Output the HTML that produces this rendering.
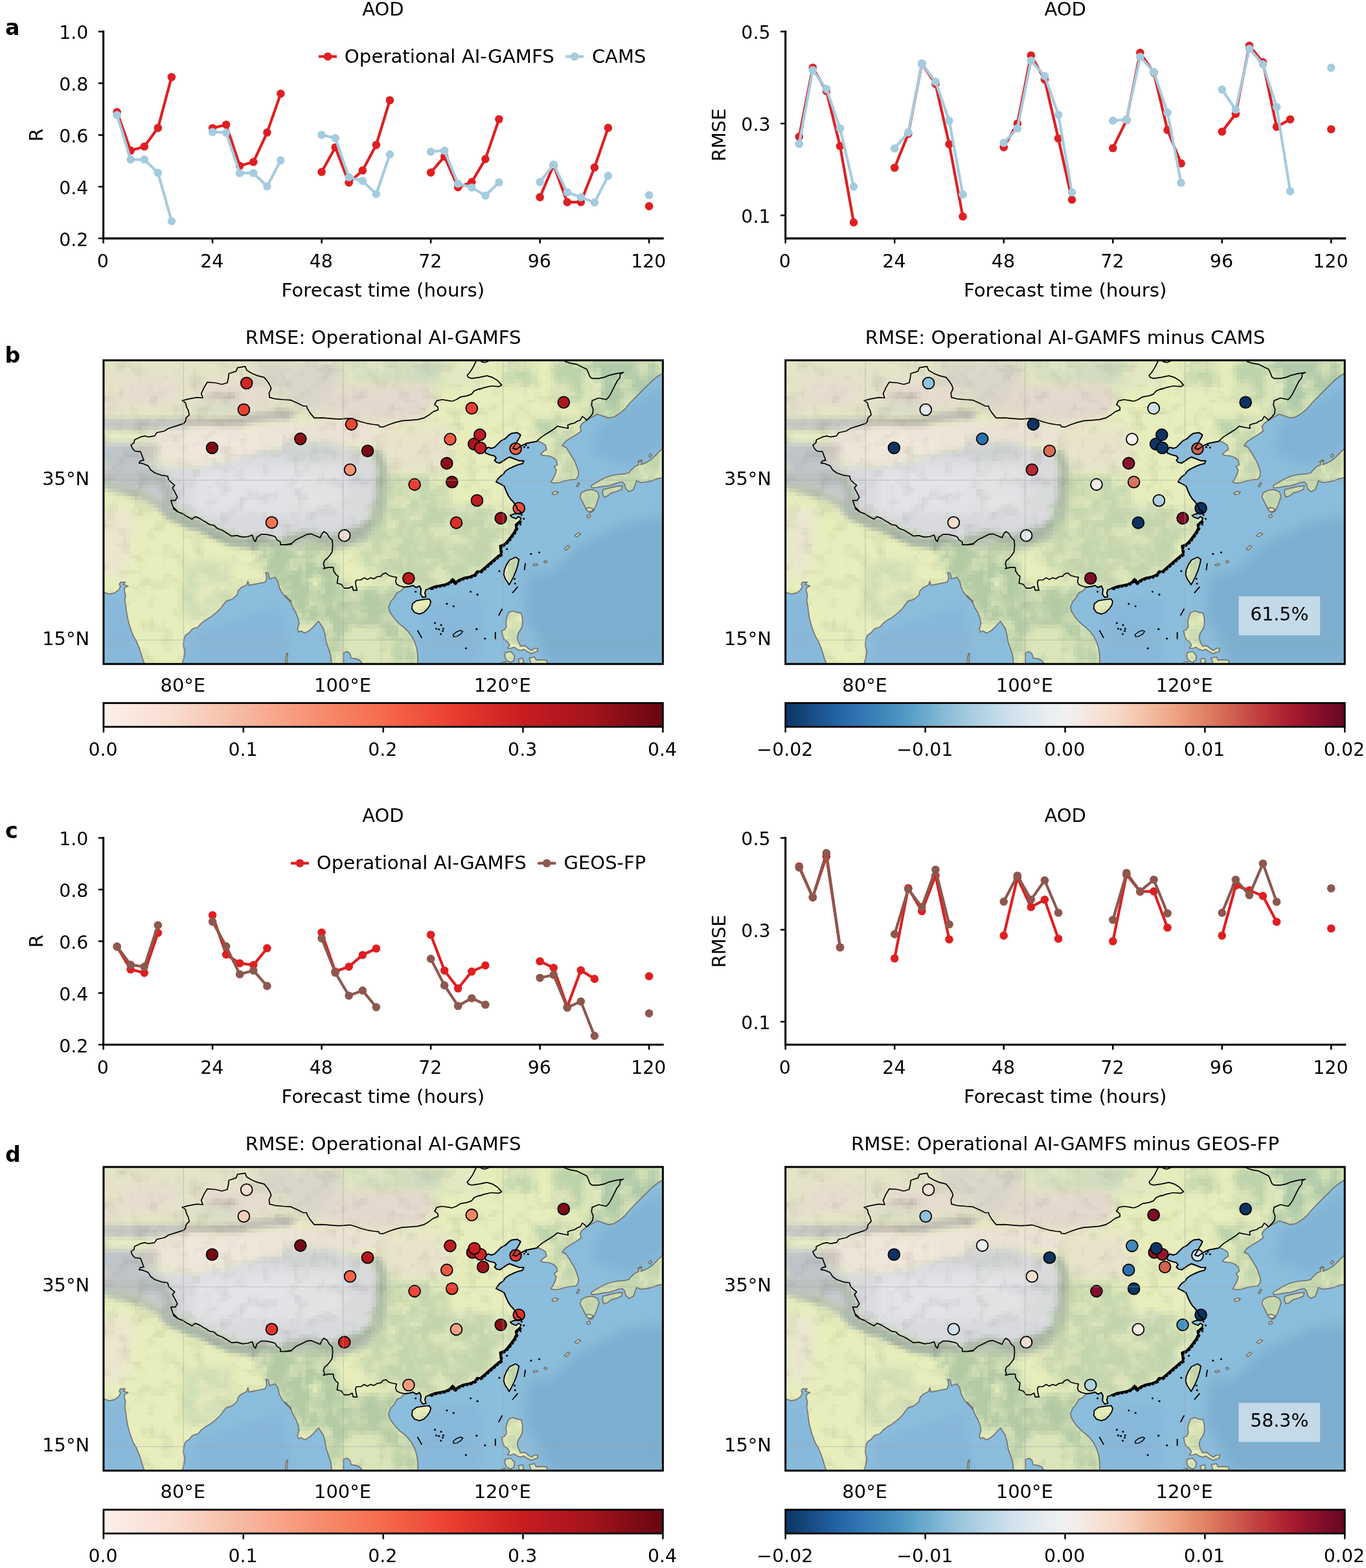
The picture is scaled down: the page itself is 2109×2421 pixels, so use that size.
<!DOCTYPE html>
<html lang="en">
<head>
<meta charset="utf-8">
<title>AOD forecast evaluation</title>
<style>
html,body{margin:0;padding:0;background:#fff}
body{width:2109px;height:2421px;overflow:hidden}
svg{display:block}
</style>
</head>
<body>
<svg width="2109" height="2421" viewBox="0 0 2109 2421">
<defs>
<linearGradient id="gReds" x1="0" y1="0" x2="1" y2="0"><stop offset="0" stop-color="#faf0eb"/><stop offset="0.0312" stop-color="#f9ebe4"/><stop offset="0.0625" stop-color="#f9e6dd"/><stop offset="0.0938" stop-color="#f9e1d6"/><stop offset="0.125" stop-color="#f9dcce"/><stop offset="0.1562" stop-color="#f8d3c3"/><stop offset="0.1875" stop-color="#f8cab7"/><stop offset="0.2188" stop-color="#f7c1ab"/><stop offset="0.25" stop-color="#f7b89f"/><stop offset="0.2812" stop-color="#f7ae94"/><stop offset="0.3125" stop-color="#f7a589"/><stop offset="0.3438" stop-color="#f79b7e"/><stop offset="0.375" stop-color="#f79172"/><stop offset="0.4062" stop-color="#f68769"/><stop offset="0.4375" stop-color="#f67e5f"/><stop offset="0.4688" stop-color="#f67456"/><stop offset="0.5" stop-color="#f66b4c"/><stop offset="0.5312" stop-color="#f35f45"/><stop offset="0.5625" stop-color="#f0543e"/><stop offset="0.5938" stop-color="#ed4937"/><stop offset="0.625" stop-color="#ea3e30"/><stop offset="0.6562" stop-color="#e1352c"/><stop offset="0.6875" stop-color="#d82d29"/><stop offset="0.7188" stop-color="#d02525"/><stop offset="0.75" stop-color="#c71d22"/><stop offset="0.7812" stop-color="#be1b20"/><stop offset="0.8125" stop-color="#b5181e"/><stop offset="0.8438" stop-color="#ac161c"/><stop offset="0.875" stop-color="#a2141a"/><stop offset="0.9062" stop-color="#931018"/><stop offset="0.9375" stop-color="#840d16"/><stop offset="0.9688" stop-color="#750914"/><stop offset="1" stop-color="#680612"/></linearGradient>
<linearGradient id="gRdBu" x1="0" y1="0" x2="1" y2="0"><stop offset="0" stop-color="#0b3463"/><stop offset="0.0312" stop-color="#134479"/><stop offset="0.0625" stop-color="#1c5490"/><stop offset="0.0938" stop-color="#2464a6"/><stop offset="0.125" stop-color="#2e72b0"/><stop offset="0.1562" stop-color="#3880b7"/><stop offset="0.1875" stop-color="#428dbe"/><stop offset="0.2188" stop-color="#559cc5"/><stop offset="0.25" stop-color="#6cabcd"/><stop offset="0.2812" stop-color="#84bad5"/><stop offset="0.3125" stop-color="#9ac6dc"/><stop offset="0.3438" stop-color="#add0e2"/><stop offset="0.375" stop-color="#bfdae7"/><stop offset="0.4062" stop-color="#d0e2ec"/><stop offset="0.4375" stop-color="#dce7ee"/><stop offset="0.4688" stop-color="#e7edf0"/><stop offset="0.5" stop-color="#f2f1f1"/><stop offset="0.5312" stop-color="#f4e9e3"/><stop offset="0.5625" stop-color="#f6e1d4"/><stop offset="0.5938" stop-color="#f7d8c6"/><stop offset="0.625" stop-color="#f5c9b2"/><stop offset="0.6562" stop-color="#f3b99d"/><stop offset="0.6875" stop-color="#f0a989"/><stop offset="0.7188" stop-color="#e99577"/><stop offset="0.75" stop-color="#e08167"/><stop offset="0.7812" stop-color="#d76c57"/><stop offset="0.8125" stop-color="#cd574a"/><stop offset="0.8438" stop-color="#c24140"/><stop offset="0.875" stop-color="#b72c36"/><stop offset="0.9062" stop-color="#a91b2e"/><stop offset="0.9375" stop-color="#92132a"/><stop offset="0.9688" stop-color="#7c0c27"/><stop offset="1" stop-color="#680624"/></linearGradient>
<clipPath id="mapclip"><rect x="0" y="0" width="863.5" height="468.9"/></clipPath>
<clipPath id="landclip"><path d="M-5 -5 L868.5 -5 L862.2 20.5 L854.7 25.5 L846.3 32.2 L838 40.6 L829.6 48.9 L821.2 57.3 L812.9 65.7 L804.5 75.7 L796.1 82.4 L787.7 87.5 L779.4 89.1 L767.7 84.9 L762.6 83.3 L754.3 87.5 L745.9 92.5 L739.2 97.5 L735.8 102.5 L737.5 109.2 L730.8 114.2 L720.8 120.1 L712.4 126 L708.2 131.8 L714.1 134.3 L717.4 139.4 L722.5 147.7 L727.5 156.1 L730.8 164.5 L733.3 172.8 L732.5 179.5 L729.1 183.7 L720.8 184.6 L712.4 186.2 L704 188.7 L695.7 189.6 L690.6 187.9 L694 182.9 L697.3 176.2 L699 169.5 L695.7 164.5 L700.7 161.1 L699 154.4 L694 150.2 L687.3 147.7 L678.9 146.9 L674.7 145.2 L678.9 141 L683.9 137.7 L682.3 131 L677.2 127.6 L672.2 125.1 L668.9 125.1 L660.5 126.8 L652.1 128.5 L643.8 132.7 L637.1 137.7 L632 136 L637.1 127.6 L642.1 119.3 L643.8 115.1 L638.7 111.7 L630.4 112.6 L625.3 115.9 L620.3 120.9 L613.6 124.3 L608.6 129.3 L603.6 134.3 L598.6 136 L593.5 134.3 L588.5 139.4 L590.2 143.5 L596.9 146.1 L603.6 147.7 L606.1 151.1 L603.6 154.4 L606.9 157.8 L612 158.6 L617 155.3 L622 151.9 L627 149.4 L635.4 152.7 L642.1 155.3 L648.8 155.3 L647.1 159.4 L640.4 161.1 L632 164.5 L625.3 167.8 L620.3 171.2 L617 176.2 L612 179.5 L607.8 184.6 L606.1 187.9 L613.6 191.3 L618.7 194.6 L622 203 L625.3 209.7 L628.7 214.7 L632 218 L637.1 224.7 L639.6 231.4 L642.1 232 L645.4 235.4 L642.1 236.2 L633.7 237.1 L627.9 239.6 L630.4 242.1 L637.1 244.6 L640.4 241.3 L644.6 243.8 L642.1 248.8 L636.2 253.8 L637.1 258.8 L633.7 265.5 L628.7 272.2 L623.7 278.9 L618.7 283.9 L612 286.5 L612.8 292.3 L613.6 299 L608.6 302.4 L601.9 308.2 L595.2 314.1 L588.5 319.9 L581.8 325.8 L576.4 325.8 L573.1 330.8 L564.7 334.2 L556.3 335.8 L548 339.2 L541.3 344.2 L538.8 337.5 L534.6 342.5 L527.9 345.9 L519.5 347.6 L511.1 349.2 L502.8 352.6 L497.7 354.3 L496.1 359.3 L497.7 365.1 L492.7 366 L489.4 361 L490.2 353.4 L487.7 348.4 L482.7 350.9 L477.7 347.6 L472.6 349.2 L464.3 350.1 L459.2 355.9 L452.5 359.3 L449.2 366 L443.3 372.7 L440 381.1 L441.7 387.7 L445.8 394.4 L450.9 401.1 L457.6 407.8 L464.3 412.9 L471 419.6 L476 426.3 L480.2 434.6 L483.5 444.7 L485.2 454.7 L485.2 468.1 L399 468.1 L395.6 463.1 L388.9 460.6 L382.2 459.7 L380.6 453 L376.4 449.7 L370.5 451.4 L370.5 468.1 L352.1 468.1 L350.4 454.7 L347.1 444.7 L343.7 434.6 L342 424.6 L339.5 414.5 L336.2 409.5 L332 402.8 L328.7 406.2 L323.6 412 L316.9 417.9 L310.2 421.2 L305.2 417.9 L301 419.6 L299.4 414.5 L301.9 406.2 L300.2 397.8 L296.8 389.4 L292.7 382.7 L290.1 376 L285.1 369.3 L280.1 362.6 L290.1 372.7 L284.8 369.3 L279.7 364.3 L274.7 357.6 L271.4 350.9 L268.9 340.9 L264.7 335 L256.3 337.5 L254.6 329.2 L250.4 327.5 L252.1 335.8 L249.6 342.5 L241.2 344.2 L232.9 345.9 L224.5 347.6 L222.8 340.9 L221.1 346.7 L212.8 350.9 L207.7 355.9 L206.1 362.6 L197.7 369.3 L189.3 371.8 L186 376 L181 382.7 L174.3 389.4 L165.9 396.1 L157.5 401.1 L150.8 406.2 L145.8 412 L137.4 414.5 L132.4 420.4 L126.5 424.6 L124 431.3 L123.2 441.3 L125.7 449.7 L124 459.7 L121.5 468.1 L62.9 468.1 L60.4 461.4 L57.9 453 L54.6 443 L50.4 433 L46.2 426.3 L42.8 417.9 L39.5 407.8 L37 397.8 L35.3 387.7 L34.5 379.4 L32.8 371 L34 362.6 L32 355.9 L32.8 350.9 L37.8 348.4 L30.3 345.9 L33.6 342.5 L26.1 342.5 L24.4 345.9 L26.1 349.2 L23.6 354.3 L16.9 359.3 L8.5 361 L0.1 357.9 L-5 359.9ZM476.8 376 L483.5 371 L494.4 369.3 L502.8 368.5 L505.3 372.7 L503.6 378.5 L499.4 384.4 L494.4 389.4 L487.7 391.9 L480.2 389.4 L476 383.6ZM636.2 304 L641.3 307.4 L639.6 315.8 L637.1 324.1 L633.7 332.5 L629.5 340.9 L626.2 346.7 L623.7 342.5 L620.3 337.5 L617.8 330.8 L618.7 324.1 L622 315.8 L627 308.2ZM625.3 389.4 L632 386.9 L638.7 389.4 L644.6 390.3 L646.3 396.1 L647.1 404.5 L646.3 411.2 L643.8 416.2 L640.4 421.2 L638.7 427.9 L640.4 434.6 L643.8 441.3 L650.5 440.5 L655.5 444.7 L660.5 448 L665.5 444.7 L670.6 444.7 L669.7 449.7 L663.9 451.4 L660.5 453 L653.8 449.7 L648.8 446.3 L643.8 448 L638.7 446.3 L633.7 443 L628.7 444.7 L623.7 444.7 L627 439.6 L623.7 434.6 L618.7 431.3 L616.1 424.6 L614.5 417.9 L618.7 416.2 L622 411.2 L621.2 402.8 L622.8 396.1ZM620.3 451.4 L628.7 449.7 L634.6 456.4 L633.7 463.1 L628.7 466.4 L622 463.1 L619.5 456.4ZM752.6 193.8 L759.3 189.6 L771 182.9 L781 178.7 L792.8 176.2 L804.5 175.4 L811.2 173.7 L814.5 169.5 L819.6 164.5 L826.3 161.1 L826.3 156.1 L831.3 154.4 L829.6 161.1 L838 157.8 L846.3 152.7 L854.7 144.4 L863.1 136 L868.5 136 L868.5 181.2 L863.1 181.2 L854.7 182.9 L846.3 186.2 L838 187.9 L829.6 188.7 L822.9 186.2 L821.2 191.3 L817.9 199.6 L811.2 203 L806.2 198 L804.5 191.3 L801.1 187.9 L794.4 188.7 L787.7 191.3 L779.4 193.8 L771 194.6 L762.6 196.3 L754.3 197.1 L752.6 193.8ZM771 199.6 L781 197.1 L792.8 194.6 L801.1 193.8 L799.5 199.6 L791.1 203 L784.4 204.6 L777.7 209.7 L772.7 211.3 L770.2 205.5ZM737.5 204.6 L745.9 200.5 L754.3 199.6 L762.6 203 L765.1 209.7 L762.6 218 L759.3 226.4 L755.9 233.1 L750.9 235.6 L745.9 231.4 L742.5 224.7 L739.2 218 L735.8 211.3ZM692.3 205 L697.3 202.6 L702.4 203.8 L699 206.7 L694 207.3ZM280.6 468.1 L281.1 459.7 L282.8 452.2 L284.4 453 L283.4 461.4 L283.1 468.1ZM744.2 228.7 L750.1 227.4 L755.9 229.5 L754.3 232.9 L748.4 233.7ZM745.9 240.4 L750.1 237.9 L751.8 241.3 L747.9 243.4ZM727.5 270.6 L733.3 266.4 L736.7 268 L730.8 272.6ZM711.6 291 L717.4 285.6 L719.9 287.6 L714.1 293.2ZM679.8 310.4 L683.1 309.1 L684.8 311.6 L681.4 312.9ZM663 315.8 L668 313.7 L670.6 315.8 L665.5 317.4ZM730 194.6 L733.3 188.7 L735 189.9 L732.2 195.4ZM841.3 147.7 L844.7 144.4 L846.3 146.9 L843.8 150.2ZM824.6 156.9 L828.8 153.6 L830.4 155.8ZM640.4 461.4 L647.1 459.7 L648.8 466.4 L642.1 468.9ZM657.2 459.7 L665.5 458.1 L668 463.1 L675.6 462.3 L683.9 463.1 L685.6 468.9 L660.5 468.9ZM615.3 466.4 L620.3 465.6 L622 468.9 L614.5 468.9Z"/></clipPath>
<filter id="b3" filterUnits="userSpaceOnUse" x="-60" y="-60" width="983.5" height="588.9"><feGaussianBlur stdDeviation="3"/></filter>
<filter id="b4" filterUnits="userSpaceOnUse" x="-60" y="-60" width="983.5" height="588.9"><feGaussianBlur stdDeviation="4"/></filter>
<filter id="b5" filterUnits="userSpaceOnUse" x="-60" y="-60" width="983.5" height="588.9"><feGaussianBlur stdDeviation="5"/></filter>
<filter id="b6" filterUnits="userSpaceOnUse" x="-60" y="-60" width="983.5" height="588.9"><feGaussianBlur stdDeviation="6"/></filter>
<filter id="b7" filterUnits="userSpaceOnUse" x="-60" y="-60" width="983.5" height="588.9"><feGaussianBlur stdDeviation="7"/></filter>
<filter id="b8" filterUnits="userSpaceOnUse" x="-60" y="-60" width="983.5" height="588.9"><feGaussianBlur stdDeviation="8"/></filter>
<filter id="b9" filterUnits="userSpaceOnUse" x="-60" y="-60" width="983.5" height="588.9"><feGaussianBlur stdDeviation="9"/></filter>
<filter id="b10" filterUnits="userSpaceOnUse" x="-60" y="-60" width="983.5" height="588.9"><feGaussianBlur stdDeviation="10"/></filter>
<filter id="mot" filterUnits="userSpaceOnUse" x="-10" y="-10" width="883.5" height="488.9" color-interpolation-filters="sRGB"><feTurbulence type="fractalNoise" baseFrequency="0.045" numOctaves="3" seed="11" result="n"/><feColorMatrix in="n" type="matrix" values="0.22 0 0 0 0.89  0.22 0 0 0 0.89  0.22 0 0 0 0.89  0 0 0 0 1" result="m"/><feBlend in="SourceGraphic" in2="m" mode="multiply"/></filter>
<filter id="veg" filterUnits="userSpaceOnUse" x="-10" y="-10" width="883.5" height="488.9" color-interpolation-filters="sRGB"><feTurbulence type="fractalNoise" baseFrequency="0.035" numOctaves="4" seed="5" result="n"/><feColorMatrix in="n" type="matrix" values="0 0 0 0 0  0 0 0 0 0  0 0 0 0 0  0 3.4 0 0 -1.0" result="a"/><feComposite in="SourceGraphic" in2="a" operator="in"/></filter>
<filter id="pix" filterUnits="userSpaceOnUse" x="-10" y="-10" width="883.5" height="488.9" color-interpolation-filters="sRGB"><feFlood x="3" y="3" width="1" height="1" flood-color="#000"/><feComposite width="6.17" height="6.17"/><feTile result="grid"/><feComposite in="SourceGraphic" in2="grid" operator="in"/><feMorphology operator="dilate" radius="3.2" result="px"/><feMerge><feMergeNode in="SourceGraphic"/><feMergeNode in="px"/></feMerge></filter>
<g id="mapbg" clip-path="url(#mapclip)">
<rect x="0" y="0" width="863.5" height="468.9" fill="#8bbddc"/>
<path d="M871.5 242.1 L812.9 248.8 L737.5 283.9 L690.6 329.2 L653.8 329.2 L650.5 396.1 L670.6 429.6 L687.3 471.5 L871.5 471.5Z" fill="#7caecf" filter="url(#b10)"/>
<path d="M762.6 100.8 L821.2 65.7 L864.8 37.2 L864.8 131 L812.9 164.5 L754.3 144.4Z" fill="#80b2d4" filter="url(#b9)"/>
<path d="M140.8 421.2 L274.7 379.4 L290.1 471.5 L132.4 471.5Z" fill="#86b6d8" filter="url(#b9)"/>
<path d="M0.1 371 L30.3 371 L57.1 471.5 L0.1 471.5Z" fill="#87b7d9" filter="url(#b9)"/>
<path d="M489.4 379.4 L580.1 362.6 L580.1 471.5 L489.4 471.5Z" fill="#87b7d9" filter="url(#b9)"/>
<g clip-path="url(#landclip)"><g filter="url(#pix)">
<g filter="url(#mot)">
<rect x="-10" y="-10" width="883.5" height="488.9" fill="#e7eebc"/>
<path d="M-9.9 -6.3 L290.1 -6.3 L290.1 87.5 L-9.9 87.5Z" fill="#e4e3c8" filter="url(#b10)"/>
<path d="M33.6 30.5 L107.3 28.9 L117.3 48.9 L107.3 65.7 L40.3 65.7 L28.6 48.9Z" fill="#e7ddd0" filter="url(#b8)"/>
<path d="M0.1 57.3 L33.6 57.3 L33.6 80.8 L0.1 84.1Z" fill="#e6dfd0" filter="url(#b8)"/>
<path d="M154.2 33.9 L241.2 35.6 L264.7 50.6 L258 70.7 L199.4 72.4 L157.5 67.4Z" fill="#e6dbcf" filter="url(#b7)"/>
<path d="M157.5 52.3 L207.7 51.5 L209.4 59.8 L157.5 60.7Z" fill="#cbc4b8" filter="url(#b4)"/>
<path d="M237.9 2.1 L290.1 2.1 L290.1 43.9 L261.3 43.9 L241.2 27.2Z" fill="#d8d4c8" filter="url(#b8)"/>
<path d="M137.4 67.4 L207.7 65.7 L211.1 80.8 L137.4 82.4Z" fill="#d6dbc6" filter="url(#b6)"/>
<path d="M0.1 92.5 L73.8 91.6 L122.4 92.5 L124 100.8 L98.9 107.5 L57.1 109.2 L0.1 109.2Z" fill="#c8cbc7" filter="url(#b5)"/>
<path d="M120.7 91.6 L197.7 91.6 L199.4 98.3 L120.7 99.2Z" fill="#c9c4b9" filter="url(#b4)"/>
<path d="M196 94.2 L241.2 84.1 L290.1 79.1 L290.1 87.5 L241.2 92.5 L197.7 100.8Z" fill="#c7c5bc" filter="url(#b5)"/>
<path d="M3.5 110.9 L45.3 110.9 L45.3 124.3 L3.5 126Z" fill="#e8ebc6" filter="url(#b6)"/>
<path d="M280.1 0.4 L373.9 0.4 L370.5 27.2 L363.8 64 L322 87.5 L280.1 60.7Z" fill="#dad6cb" filter="url(#b9)"/>
<path d="M373.9 0.4 L464.3 0.4 L464.3 28.9 L373.9 32.2Z" fill="#dde3c8" filter="url(#b9)"/>
<path d="M460.9 0.4 L531.2 0.4 L527.9 37.2 L464.3 35.6Z" fill="#d0dbc4" filter="url(#b9)"/>
<path d="M360.5 35.6 L497.7 32.2 L514.5 60.7 L497.7 89.1 L430.8 102.5 L363.8 90.8 L330.3 87.5Z" fill="#e4d9ce" filter="url(#b9)"/>
<path d="M280.1 94.2 L373.9 94.2 L427.4 105.9 L447.5 114.2 L440.8 131 L363.8 127.6 L280.1 126Z" fill="#ece1d7" filter="url(#b8)"/>
<path d="M83.9 104.2 L124 100.8 L207.7 102.5 L290.1 94.2 L290.1 134.3 L241.2 141 L191 154.4 L140.8 164.5 L90.6 159.4 L77.2 141 L65.4 124.3Z" fill="#ede5d8" filter="url(#b6)"/>
<path d="M124 114.2 L241.2 110.9 L241.2 137.7 L174.3 147.7 L124 144.4Z" fill="#f0e8dc" filter="url(#b8)"/>
<path d="M45.3 127.6 L83.9 126 L83.9 161.1 L57.1 157.8Z" fill="#cfcbc4" filter="url(#b6)"/>
<path d="M0.1 127.6 L45.3 126 L60.4 154.4 L83.9 162.8 L107.3 181.2 L117.3 211.3 L107.3 233.8 L83.9 216.4 L48.7 199.6 L0.1 186.2Z" fill="#c6cad0" filter="url(#b6)"/>
<path d="M11.9 141 L45.3 141 L45.3 161.1 L11.9 161.1Z" fill="#babec1" filter="url(#b6)"/>
<path d="M0.1 172.8 L60.4 176.2 L60.4 187.9 L0.1 186.2Z" fill="#bbbfc0" filter="url(#b6)"/>
<path d="M83.9 161.1 L140.8 166.1 L191 156.1 L241.2 141 L290.1 134.3 L290.1 233.8 L114.8 233.8 L107.3 203 L98.9 177.9Z" fill="#dadbdf" filter="url(#b5)"/>
<path d="M280.1 132.7 L330.3 127.6 L367.2 131 L415.7 144.4 L428.3 169.5 L429.9 194.6 L423.2 233.8 L280.1 233.8Z" fill="#d9dadc" filter="url(#b6)"/>
<path d="M107.3 228.7 L581.1 228.7 L579.4 248.8 L559.3 267.2 L492.4 272.2 L425.4 268.9 L341.7 283.9 L274.7 282.3 L207.7 270.6 L157.5 250.5Z" fill="#d9dadd" filter="url(#b5)"/>
<path d="M140.8 171.2 L290.1 161.1 L290.1 233.8 L140.8 233.8Z" fill="#e3e4e7" filter="url(#b9)"/>
<path d="M280.1 161.1 L363.8 161.1 L380.6 194.6 L363.8 233.8 L280.1 233.8Z" fill="#e2e3e5" filter="url(#b9)"/>
<path d="M280.1 127.6 L363.8 127.6 L363.8 154.4 L280.1 157.8Z" fill="#d2d4d4" filter="url(#b7)"/>
<path d="M0.1 182.9 L48.7 194.6 L83.9 213 L110.6 233.8 L90.6 233.8 L60.4 216.4 L0.1 199.6Z" fill="#b8c1b3" filter="url(#b5)"/>
<path d="M83.9 228.7 L107.3 228.7 L157.5 250.5 L207.7 270.6 L274.7 282.3 L341.7 283.9 L341.7 295.7 L274.7 294 L204.4 287.3 L149.1 267.2 L97.2 243.8Z" fill="#b5c0ae" filter="url(#b5)"/>
<path d="M330.3 283.9 L397.3 267.2 L419.1 248.8 L425.8 228.7 L437.5 228.7 L434.1 253.8 L414 278.9 L350.4 295.7 L330.3 295.7Z" fill="#b3c0ac" filter="url(#b6)"/>
<path d="M421.6 174.5 L431.6 177.9 L440 233.8 L423.2 233.8Z" fill="#b2beac" filter="url(#b6)"/>
<path d="M430.8 104.2 L531.2 100.8 L539.6 144.4 L531.2 177.9 L439.1 177.9 L422.4 144.4Z" fill="#e8e4cb" filter="url(#b9)"/>
<path d="M430.8 177.9 L531.2 177.9 L531.2 233.8 L430.8 233.8Z" fill="#dfe8bb" filter="url(#b9)"/>
<path d="M514.5 2.1 L580.1 2.1 L580.1 43.9 L514.5 43.9Z" fill="#e3e8c2" filter="url(#b8)"/>
<path d="M617 3.7 L663.9 3.7 L663.9 37.2 L620.3 37.2Z" fill="#dbe5ba" filter="url(#b8)"/>
<path d="M694 3.7 L745.9 3.7 L740.9 64 L697.3 64Z" fill="#dbe5ba" filter="url(#b8)"/>
<path d="M660.5 90.8 L720.8 87.5 L745.9 94.2 L720.8 117.6 L677.2 120.9Z" fill="#d9e4b9" filter="url(#b7)"/>
<path d="M745.9 0.4 L863.1 0.4 L863.1 27.2 L821.2 64 L779.4 92.5 L747.6 94.2 L754.3 60.7 L747.6 27.2Z" fill="#d0deb6" filter="url(#b7)"/>
<path d="M750.9 27.2 L804.5 20.5 L787.7 60.7 L754.3 60.7Z" fill="#e0e8bd" filter="url(#b7)"/>
<path d="M677.2 124.3 L720.8 117.6 L737.5 161.1 L734.2 189.6 L690.6 189.6 L700.7 161.1Z" fill="#dde7bb" filter="url(#b7)"/>
<path d="M737.5 177.9 L863.1 132.7 L863.1 184.6 L812.9 206.3 L737.5 234.8Z" fill="#dde7bb" filter="url(#b7)"/>
<path d="M0.1 228.7 L45.3 228.7 L45.3 278.9 L32 332.5 L0.1 335.8Z" fill="#ebe7cf" filter="url(#b9)"/>
<path d="M124 309.1 L199.4 309.1 L199.4 379.4 L149.1 404.5 L124 396.1Z" fill="#e2e9bc" filter="url(#b9)"/>
<path d="M241.2 285.6 L290.1 285.6 L290.1 372.7 L271.4 349.2 L251.3 329.2 L241.2 309.1Z" fill="#d3e0b7" filter="url(#b7)"/>
<path d="M280.1 295.7 L350.4 295.7 L363.8 345.9 L388.9 359.3 L447.5 349.2 L455.9 362.6 L440.8 379.4 L447.5 404.5 L481 429.6 L486 468.8 L397.3 468.8 L370.5 446.3 L352.1 468.8 L330.3 404.5 L300.2 412.9 L296.8 389.4 L280.1 362.6Z" fill="#d3e0b7" filter="url(#b8)"/>
<path d="M303.5 322.5 L335.3 325.8 L335.3 409.5 L301.9 412.9Z" fill="#e2eabd" filter="url(#b6)"/>
<path d="M373.9 409.5 L447.5 409.5 L464.3 468.8 L373.9 468.8Z" fill="#dbe6ba" filter="url(#b8)"/>
<path d="M419.1 228.7 L580.1 228.7 L580.1 324.1 L541.3 342.5 L497.7 352.6 L464.3 349.2 L447.5 332.5 L422.4 332.5 L397.3 312.4 L414 278.9Z" fill="#dbe5ba" filter="url(#b9)"/>
<path d="M447.5 270.6 L514.5 270.6 L514.5 312.4 L447.5 312.4Z" fill="#dbe5ba" filter="url(#b9)"/>
<path d="M570.1 228.7 L637.1 228.7 L633.7 265.5 L612 292.3 L580.1 324.1 L570.1 324.1Z" fill="#dde7bb" filter="url(#b9)"/>
<path d="M105.3 237.7 L112 242.7 L120.4 246.1 L127.1 250.3 L134.6 254.4 L139.6 250.3 L147.1 253.6 L153.8 257.8 L162.2 262.8 L168.1 263.7 L173.9 268.7 L182.3 272 L189 276.2 L195.7 280.4 L204.1 279.6 L212.4 282.1 L220.8 281.2 L227.5 278.7 L230 286.3 L232.5 288.8 L235 282.1 L240.9 277.9 L249.3 277.9 L257.6 279.6 L262.7 281.2 L266 286.3 L271 289.6 L271 293.8" fill="none" stroke="#a9b7a5" stroke-width="13" stroke-linecap="round" stroke-linejoin="round" filter="url(#b3)"/>
<path d="M105.8 239.8 L98.3 232.4 L94.9 222.4 L101.6 222.4 L105 217.3 L100.8 209 L97.5 203.1 L100.8 198.9 L96.6 195.6 L91.6 190.6 L89.9 184.7 L81.6 183.9 L69.8 179.7 L64 175.5" fill="none" stroke="#b0bab0" stroke-width="14" stroke-linecap="round" stroke-linejoin="round" filter="url(#b4)"/>
<path d="M280.1 278.9 L313.6 270.6 L350.4 278.9 L373.9 268.9 L400.6 262.2 L419.1 248.8 L425.8 228.7" fill="none" stroke="#aab9a5" stroke-width="16" stroke-linecap="round" stroke-linejoin="round" filter="url(#b4)"/>
<path d="M424.1 233.8 L429.1 211.3 L431.6 186.2 L429.9 164.5 L422.4 144.4" fill="none" stroke="#adbaa8" stroke-width="16" stroke-linecap="round" stroke-linejoin="round" filter="url(#b4)"/>
<path d="M0.1 97.5 L40.3 99.2 L77.2 97.5 L122.4 95.8" fill="none" stroke="#c4c7c2" stroke-width="16" stroke-linecap="round" stroke-linejoin="round" filter="url(#b4)"/>
<path d="M122.4 95 L157.5 95 L197.7 94.2" fill="none" stroke="#c2bdb2" stroke-width="12" stroke-linecap="round" stroke-linejoin="round" filter="url(#b3)"/>
<path d="M197.7 95.8 L241.2 87.5 L290.1 82.4" fill="none" stroke="#c0bfb6" stroke-width="14" stroke-linecap="round" stroke-linejoin="round" filter="url(#b4)"/>
<path d="M0.1 144.4 L23.6 149.4 L45.3 151.1" fill="none" stroke="#bfc4c8" stroke-width="28" stroke-linecap="round" stroke-linejoin="round" filter="url(#b6)"/>
<path d="M0.1 179.5 L32 181.2 L60.4 182.9" fill="none" stroke="#bdc2c1" stroke-width="20" stroke-linecap="round" stroke-linejoin="round" filter="url(#b5)"/>
</g>
<g filter="url(#veg)">
<path d="M280.1 283.9 L353.8 283.9 L367.2 345.9 L390.6 355.9 L447.5 345.9 L457.6 359.3 L440.8 379.4 L447.5 404.5 L481 429.6 L487.7 471.5 L447.5 471.5 L430.8 412.9 L380.6 404.5 L350.4 471.5 L330.3 404.5 L300.2 412.9 L296.8 389.4 L280.1 362.6Z" fill="#b3cba5" fill-opacity="1" filter="url(#b5)"/>
<path d="M237.9 283.9 L291.5 283.9 L291.5 374.4 L271.4 349.2 L251.3 329.2 L237.9 309.1Z" fill="#b3cba5" fill-opacity="1" filter="url(#b5)"/>
<path d="M419.1 228.7 L580.1 228.7 L580.1 324.1 L541.3 342.5 L497.7 352.6 L464.3 349.2 L447.5 332.5 L422.4 332.5 L397.3 312.4 L414 278.9Z" fill="#bdd2ab" fill-opacity="0.8" filter="url(#b6)"/>
<path d="M570.1 228.7 L637.1 228.7 L633.7 265.5 L612 292.3 L580.1 324.1 L570.1 324.1Z" fill="#bdd2ab" fill-opacity="0.8" filter="url(#b6)"/>
<path d="M430.8 177.9 L531.2 177.9 L531.2 233.8 L430.8 233.8Z" fill="#bdd2ab" fill-opacity="0.8" filter="url(#b6)"/>
<path d="M617 0.4 L663.9 0.4 L663.9 37.2 L620.3 37.2Z" fill="#b9d0a9" fill-opacity="0.9" filter="url(#b6)"/>
<path d="M694 0.4 L745.9 0.4 L740.9 64 L697.3 64Z" fill="#b9d0a9" fill-opacity="0.9" filter="url(#b6)"/>
<path d="M660.5 90.8 L720.8 87.5 L745.9 94.2 L720.8 117.6 L677.2 120.9Z" fill="#b9d0a9" fill-opacity="0.9" filter="url(#b5)"/>
<path d="M745.9 0.4 L864.8 0.4 L864.8 27.2 L821.2 64 L779.4 92.5 L747.6 94.2 L754.3 60.7 L747.6 27.2Z" fill="#aecaa8" fill-opacity="1" filter="url(#b5)"/>
<path d="M677.2 124.3 L720.8 117.6 L737.5 161.1 L734.2 189.6 L690.6 189.6 L700.7 161.1Z" fill="#bdd2ab" fill-opacity="0.8" filter="url(#b5)"/>
<path d="M737.5 177.9 L864.8 132.7 L864.8 184.6 L812.9 206.3 L737.5 236.5Z" fill="#bdd2ab" fill-opacity="0.8" filter="url(#b5)"/>
<path d="M373.9 0.4 L531.2 0.4 L527.9 32.2 L373.9 28.9Z" fill="#c3d5b3" fill-opacity="0.7" filter="url(#b7)"/>
<path d="M124 309.1 L199.4 309.1 L199.4 379.4 L149.1 404.5 L124 396.1Z" fill="#c6d8b2" fill-opacity="0.6" filter="url(#b7)"/>
<path d="M617 302.4 L643.8 302.4 L637.1 349.2 L620.3 349.2Z" fill="#b9d0a9" fill-opacity="0.9" filter="url(#b4)"/>
<path d="M613.6 386.1 L687.3 386.1 L687.3 471.5 L613.6 471.5Z" fill="#c0d4ae" fill-opacity="0.7" filter="url(#b4)"/>
</g>
</g></g>
<path d="M862.2 20.5 L854.7 25.5 L846.3 32.2 L838 40.6 L829.6 48.9 L821.2 57.3 L812.9 65.7 L804.5 75.7 L796.1 82.4 L787.7 87.5 L779.4 89.1 L767.7 84.9 L762.6 83.3 L754.3 87.5 L745.9 92.5 L739.2 97.5 L735.8 102.5 L737.5 109.2 L730.8 114.2 L720.8 120.1 L712.4 126 L708.2 131.8 L714.1 134.3 L717.4 139.4 L722.5 147.7 L727.5 156.1 L730.8 164.5 L733.3 172.8 L732.5 179.5 L729.1 183.7 L720.8 184.6 L712.4 186.2 L704 188.7 L695.7 189.6 L690.6 187.9 L694 182.9 L697.3 176.2 L699 169.5 L695.7 164.5 L700.7 161.1 L699 154.4 L694 150.2 L687.3 147.7 L678.9 146.9 L674.7 145.2 L678.9 141 L683.9 137.7 L682.3 131 L677.2 127.6 L672.2 125.1 L668.9 125.1M464.3 350.1 L459.2 355.9 L452.5 359.3 L449.2 366 L443.3 372.7 L440 381.1 L441.7 387.7 L445.8 394.4 L450.9 401.1 L457.6 407.8 L464.3 412.9 L471 419.6 L476 426.3 L480.2 434.6 L483.5 444.7 L485.2 454.7 L485.2 468.1M399 468.1 L395.6 463.1 L388.9 460.6 L382.2 459.7 L380.6 453 L376.4 449.7 L370.5 451.4 L370.5 468.1M352.1 468.1 L350.4 454.7 L347.1 444.7 L343.7 434.6 L342 424.6 L339.5 414.5 L336.2 409.5 L332 402.8 L328.7 406.2 L323.6 412 L316.9 417.9 L310.2 421.2 L305.2 417.9 L301 419.6 L299.4 414.5 L301.9 406.2 L300.2 397.8 L296.8 389.4 L292.7 382.7 L290.1 376 L285.1 369.3 L280.1 362.6 L290.1 372.7 L284.8 369.3 L279.7 364.3 L274.7 357.6 L271.4 350.9 L268.9 340.9 L264.7 335 L256.3 337.5 L254.6 329.2 L250.4 327.5 L252.1 335.8 L249.6 342.5 L241.2 344.2 L232.9 345.9 L224.5 347.6 L222.8 340.9 L221.1 346.7 L212.8 350.9 L207.7 355.9 L206.1 362.6 L197.7 369.3 L189.3 371.8 L186 376 L181 382.7 L174.3 389.4 L165.9 396.1 L157.5 401.1 L150.8 406.2 L145.8 412 L137.4 414.5 L132.4 420.4 L126.5 424.6 L124 431.3 L123.2 441.3 L125.7 449.7 L124 459.7 L121.5 468.1M62.9 468.1 L60.4 461.4 L57.9 453 L54.6 443 L50.4 433 L46.2 426.3 L42.8 417.9 L39.5 407.8 L37 397.8 L35.3 387.7 L34.5 379.4 L32.8 371 L34 362.6 L32 355.9 L32.8 350.9 L37.8 348.4 L30.3 345.9 L33.6 342.5 L26.1 342.5 L24.4 345.9 L26.1 349.2 L23.6 354.3 L16.9 359.3 L8.5 361 L0.1 357.9M752.6 193.8 L759.3 189.6 L771 182.9 L781 178.7 L792.8 176.2 L804.5 175.4 L811.2 173.7 L814.5 169.5 L819.6 164.5 L826.3 161.1 L826.3 156.1 L831.3 154.4 L829.6 161.1 L838 157.8 L846.3 152.7 L854.7 144.4 L863.1 136M863.1 181.2 L854.7 182.9 L846.3 186.2 L838 187.9 L829.6 188.7 L822.9 186.2 L821.2 191.3 L817.9 199.6 L811.2 203 L806.2 198 L804.5 191.3 L801.1 187.9 L794.4 188.7 L787.7 191.3 L779.4 193.8 L771 194.6 L762.6 196.3 L754.3 197.1 L752.6 193.8M625.3 389.4 L632 386.9 L638.7 389.4 L644.6 390.3 L646.3 396.1 L647.1 404.5 L646.3 411.2 L643.8 416.2 L640.4 421.2 L638.7 427.9 L640.4 434.6 L643.8 441.3 L650.5 440.5 L655.5 444.7 L660.5 448 L665.5 444.7 L670.6 444.7 L669.7 449.7 L663.9 451.4 L660.5 453 L653.8 449.7 L648.8 446.3 L643.8 448 L638.7 446.3 L633.7 443 L628.7 444.7 L623.7 444.7 L627 439.6 L623.7 434.6 L618.7 431.3 L616.1 424.6 L614.5 417.9 L618.7 416.2 L622 411.2 L621.2 402.8 L622.8 396.1ZM620.3 451.4 L628.7 449.7 L634.6 456.4 L633.7 463.1 L628.7 466.4 L622 463.1 L619.5 456.4ZM771 199.6 L781 197.1 L792.8 194.6 L801.1 193.8 L799.5 199.6 L791.1 203 L784.4 204.6 L777.7 209.7 L772.7 211.3 L770.2 205.5ZM737.5 204.6 L745.9 200.5 L754.3 199.6 L762.6 203 L765.1 209.7 L762.6 218 L759.3 226.4 L755.9 233.1 L750.9 235.6 L745.9 231.4 L742.5 224.7 L739.2 218 L735.8 211.3ZM692.3 205 L697.3 202.6 L702.4 203.8 L699 206.7 L694 207.3ZM280.6 468.1 L281.1 459.7 L282.8 452.2 L284.4 453 L283.4 461.4 L283.1 468.1ZM744.2 228.7 L750.1 227.4 L755.9 229.5 L754.3 232.9 L748.4 233.7ZM745.9 240.4 L750.1 237.9 L751.8 241.3 L747.9 243.4ZM727.5 270.6 L733.3 266.4 L736.7 268 L730.8 272.6ZM711.6 291 L717.4 285.6 L719.9 287.6 L714.1 293.2ZM679.8 310.4 L683.1 309.1 L684.8 311.6 L681.4 312.9ZM663 315.8 L668 313.7 L670.6 315.8 L665.5 317.4ZM730 194.6 L733.3 188.7 L735 189.9 L732.2 195.4ZM841.3 147.7 L844.7 144.4 L846.3 146.9 L843.8 150.2ZM824.6 156.9 L828.8 153.6 L830.4 155.8ZM640.4 461.4 L647.1 459.7 L648.8 466.4 L642.1 468.9ZM657.2 459.7 L665.5 458.1 L668 463.1 L675.6 462.3 L683.9 463.1 L685.6 468.9 L660.5 468.9ZM615.3 466.4 L620.3 465.6 L622 468.9 L614.5 468.9Z" fill="none" stroke="#737373" stroke-width="1.7" stroke-linejoin="round"/>
<path d="M114.8 233.8 L107.3 226.4 L103.9 216.4 L110.6 216.4 L114 211.3 L109.8 203 L106.5 197.1 L109.8 192.9 L105.6 189.6 L100.6 184.6 L98.9 178.7 L90.6 177.9 L78.8 173.7 L73 169.5 L68.8 162.8 L60.4 159.4 L54.6 158.6 L57.1 155.3 L62.1 154.4 L59.6 147.7 L57.1 141 L48.7 140.2 L44.5 136 L42.3 130.6 L47 127.6 L47.9 122.6 L57.1 118.4 L63.8 116.8 L69.6 118.4 L78.8 116.8 L82.2 111.7 L93.9 109.2 L100.6 105 L114 100.8 L124 97.5 L126.5 94.2 L127.4 89.1 L132.4 84.1 L130.7 77.4 L128.2 72.4 L126.5 65.7 L121.5 62.3 L130.7 59.8 L144.1 57.3 L153.3 58.2 L150.8 51.5 L155 42.3 L160 33.9 L172.6 34.7 L182.6 37.2 L191 34.7 L192.7 27.2 L193.5 20.5 L204.4 17.1 L206.9 11.3 L218.6 9.6 L221.1 15.5 L229.5 20.5 L237.9 23.8 L247.9 26.3 L252.9 32.2 L257.1 38.9 L258.8 43.9 L255.5 50.6 L256.3 57.3 L264.7 59.5 L278.1 60.7 L290.1 61.5 L290.1 62 L300.2 66.5 L308.6 70.7 L313.6 70.7 L314.4 74.1 L318.6 80.8 L325.3 89.1 L338.7 88.8 L352.1 90 L363.8 90.8 L370.5 90.3 L380.6 89.5 L390.6 92.5 L397.3 95 L407.3 97.5 L417.4 99.2 L424.9 100 L425.8 102.5 L431.6 103 L440.8 99.2 L450.9 95.8 L460.9 93.3 L472.6 92.5 L484.4 91.6 L494.4 89.1 L502.8 84.1 L509.5 79.1 L516.5 76.6 L516.2 72.4 L511.1 68.2 L514.5 62.3 L522.9 60.7 L532.9 62.3 L537.9 63.2 L544.6 60.7 L551.3 56.5 L561.4 54.8 L568.1 52.3 L572.2 47.3 L580.1 43.9 L580.1 44.8 L586.8 42.3 L598.6 39.7 L610.3 40.6 L614.5 38.1 L608.6 31.4 L600.2 26.3 L591.9 23.8 L580.1 26.3 L568.1 28 L563.1 26.3 L561.4 23 L564.7 19.7 L569.8 12.1 L574.8 2.1 L576.8 -0.6M579.3 -0.6 L583.5 2.1 L588.5 3.4 L593.5 1.7 L597.7 -0.6M709.1 -0.6 L714.1 2.4 L720.8 4.6 L730.8 6.3 L737.5 9.6 L745.9 13.8 L748.4 18.8 L750.9 25.5 L754.3 28 L764.3 28 L772.7 26.3 L781 23 L791.1 20.5 L802.8 18.8 L797.8 21.3 L797 27.2 L792.8 32.2 L789.4 38.9 L786.1 45.6 L782.7 52.3 L779.4 57.3 L776 60.7 L764.3 58.2 L754.3 62.3 L753.4 69 L755.9 75.7 L755.1 82.4 L751.8 86.6 L747.6 90.8 L745.9 92.5 L742.5 89.1 L739.2 86.6 L735.8 92.5 L730.8 94.2 L727.5 96.7 L720.8 98.3 L716.6 100 L717.4 105 L712.4 104.2 L704 102.5 L700.7 101.7 L695.7 105.9 L690.6 109.2 L683.9 113.4 L677.2 117.6 L672.2 121.8 L668.9 125.1M107.3 228.7 L114 233.7 L122.4 237.1 L129.1 241.3 L136.6 245.4 L141.6 241.3 L149.1 244.6 L155.8 248.8 L164.2 253.8 L170.1 254.7 L175.9 259.7 L184.3 263 L191 267.2 L197.7 271.4 L206.1 270.6 L214.4 273.1 L222.8 272.2 L229.5 269.7 L232 277.3 L234.5 279.8 L237 273.1 L242.9 268.9 L251.3 268.9 L259.6 270.6 L264.7 272.2 L268 277.3 L273 280.6 L273 284.8 L281.4 284.8 L290.1 283.9 L280.1 284.8 L290.1 283.1 L296.8 277.3 L305.2 273.1 L313.6 268.9 L320.3 268 L328.7 271.4 L334.5 273.9 L337 268 L340.4 264.4 L345.4 268 L348.7 273.9 L352.9 277.3 L353.8 285.6 L352.9 295.7 L349.6 300.7 L345.4 305.7 L341.2 309.1 L339.5 314.1 L341.2 319.1 L339.5 321.6 L347.1 319.9 L354.6 319.9 L355.4 325.8 L358.8 330.8 L362.1 333.3 L361.3 339.2 L360.5 344.2 L367.2 345.9 L371.3 351.8 L378.9 351.8 L383.9 349.2 L385.6 355.1 L391.4 355.1 L389.8 349.2 L388.9 342.5 L390.6 339.2 L397.3 339.2 L402.3 335.8 L407.3 338.4 L412.4 335.8 L417.4 337.5 L422.4 334.2 L428.3 333.3 L430.8 330 L435.8 328.3 L440.8 332.5 L447.5 334.2 L452.5 335 L450.9 340.9 L452.5 345.9 L457.6 348.4 L464.3 350.1" fill="none" stroke="#000" stroke-width="1.7" stroke-linejoin="round"/>
</g>
<g id="mapov" clip-path="url(#mapclip)">
<path d="M668.9 125.1 L660.5 126.8 L652.1 128.5 L643.8 132.7 L637.1 137.7 L632 136 L637.1 127.6 L642.1 119.3 L643.8 115.1 L638.7 111.7 L630.4 112.6 L625.3 115.9 L620.3 120.9 L613.6 124.3 L608.6 129.3 L603.6 134.3 L598.6 136 L593.5 134.3 L588.5 139.4 L590.2 143.5 L596.9 146.1 L603.6 147.7 L606.1 151.1 L603.6 154.4 L606.9 157.8 L612 158.6 L617 155.3 L622 151.9 L627 149.4 L635.4 152.7 L642.1 155.3 L648.8 155.3 L647.1 159.4 L640.4 161.1 L632 164.5 L625.3 167.8 L620.3 171.2 L617 176.2 L612 179.5 L607.8 184.6 L606.1 187.9 L613.6 191.3 L618.7 194.6 L622 203 L625.3 209.7 L628.7 214.7 L632 218 L637.1 224.7 L639.6 231.4 L642.1 232 L645.4 235.4 L642.1 236.2 L633.7 237.1 L627.9 239.6 L630.4 242.1 L637.1 244.6 L640.4 241.3 L644.6 243.8 L642.1 248.8 L636.2 253.8 L637.1 258.8 L633.7 265.5 L628.7 272.2 L623.7 278.9 L618.7 283.9 L612 286.5 L612.8 292.3 L613.6 299 L608.6 302.4 L601.9 308.2 L595.2 314.1 L588.5 319.9 L581.8 325.8 L576.4 325.8 L573.1 330.8 L564.7 334.2 L556.3 335.8 L548 339.2 L541.3 344.2 L538.8 337.5 L534.6 342.5 L527.9 345.9 L519.5 347.6 L511.1 349.2 L502.8 352.6 L497.7 354.3 L496.1 359.3 L497.7 365.1 L492.7 366 L489.4 361 L490.2 353.4 L487.7 348.4 L482.7 350.9 L477.7 347.6 L472.6 349.2 L464.3 350.1" fill="none" stroke="#000" stroke-width="2.0" stroke-linejoin="round"/>
<path d="M642.1 248.8 L636.2 253.8 L637.1 258.8 L633.7 265.5 L628.7 272.2 L623.7 278.9 L618.7 283.9 L612 286.5 L612.8 292.3 L613.6 299 L608.6 302.4 L601.9 308.2 L595.2 314.1 L588.5 319.9 L581.8 325.8 L576.4 325.8 L573.1 330.8 L564.7 334.2 L556.3 335.8 L548 339.2 L541.3 344.2 L538.8 337.5 L534.6 342.5 L527.9 345.9 L519.5 347.6 L511.1 349.2 L502.8 352.6" fill="none" stroke="#000" stroke-width="2.8" stroke-linejoin="round"/>
<path d="M642.1 248.8 L636.2 253.8 L637.1 258.8 L633.7 265.5 L628.7 272.2 L623.7 278.9 L618.7 283.9 L612 286.5 L612.8 292.3 L613.6 299 L608.6 302.4 L601.9 308.2 L595.2 314.1 L588.5 319.9 L581.8 325.8 L576.4 325.8 L573.1 330.8 L564.7 334.2 L556.3 335.8 L548 339.2 L541.3 344.2 L538.8 337.5 L534.6 342.5 L527.9 345.9 L519.5 347.6 L511.1 349.2 L502.8 352.6" fill="none" stroke="#000" stroke-width="4.6" stroke-dasharray="1.5 5" stroke-linecap="round" transform="translate(1.2 1)"/>
<path d="M476.8 376 L483.5 371 L494.4 369.3 L502.8 368.5 L505.3 372.7 L503.6 378.5 L499.4 384.4 L494.4 389.4 L487.7 391.9 L480.2 389.4 L476 383.6ZM636.2 304 L641.3 307.4 L639.6 315.8 L637.1 324.1 L633.7 332.5 L629.5 340.9 L626.2 346.7 L623.7 342.5 L620.3 337.5 L617.8 330.8 L618.7 324.1 L622 315.8 L627 308.2ZM651.3 313.2 L649.6 324.1M639.6 349.6 L631.2 359.3M615.6 383.6 L609.9 394.1M604.9 419.6 L604.9 430.4M484.7 417 L491.4 428.8" fill="none" stroke="#000" stroke-width="1.8" stroke-linejoin="round"/>
<path d="M539.6 423.7 L544.6 419.6 L551.3 417 L554.7 418.7 L551.3 422.9 L545.5 426.3 L540.4 426.6Z" fill="none" stroke="#000" stroke-width="1.4"/>
<g fill="#000"><circle cx="660" cy="299" r="1.5"/><circle cx="672.7" cy="296.8" r="1.5"/><circle cx="611.1" cy="325.5" r="1.5"/><circle cx="635.4" cy="344.7" r="1.5"/><circle cx="634.6" cy="337.5" r="1.5"/><circle cx="577.1" cy="361.8" r="1.5"/><circle cx="576" cy="415" r="1.5"/><circle cx="588.9" cy="429.6" r="1.5"/><circle cx="622.8" cy="291.5" r="1.5"/><circle cx="643.8" cy="253.8" r="1.5"/><circle cx="648.8" cy="244.6" r="1.5"/><circle cx="645.4" cy="238.7" r="1.5"/><circle cx="566.7" cy="357.3" r="1.5"/><circle cx="577.3" cy="361.8" r="1.5"/><circle cx="530.1" cy="376" r="1.5"/><circle cx="540.4" cy="379.7" r="1.5"/><circle cx="511.6" cy="405.8" r="1.5"/><circle cx="521.2" cy="408.7" r="1.5"/><circle cx="513.7" cy="414.5" r="1.5"/><circle cx="517.8" cy="415.4" r="1.5"/><circle cx="524.5" cy="414.5" r="1.5"/><circle cx="523.7" cy="417.9" r="1.5"/><circle cx="520.7" cy="422.6" r="1.5"/><circle cx="575.9" cy="415" r="1.5"/><circle cx="559.4" cy="444.7" r="1.5"/><circle cx="481.8" cy="357.3" r="1.5"/><circle cx="649.6" cy="134" r="1.5"/><circle cx="655.5" cy="134.7" r="1.5"/><circle cx="652.1" cy="131" r="1.5"/></g>
<path d="M123.4 0V468.9 M370.1 0V468.9 M616.8 0V468.9 M0 185.1H863.5 M0 431.9H863.5" fill="none" stroke="#a6a6a6" stroke-opacity="0.65" stroke-width="0.9"/>
</g>
</defs>
<rect width="2109" height="2421" fill="#fff"/>
<g stroke="#000" fill="none">
<path d="M159.6 48.7 V368.1 H1023.2" stroke-width="3.1" stroke-linecap="square" stroke-linejoin="miter"/>
<path d="M159.6 368.1 v7.7 M328.1 368.1 v7.7 M496.6 368.1 v7.7 M665.1 368.1 v7.7 M833.6 368.1 v7.7 M1002.1 368.1 v7.7 M159.6 368.1 h-7.7 M159.6 288.2 h-7.7 M159.6 208.4 h-7.7 M159.6 128.6 h-7.7 M159.6 48.7 h-7.7" stroke-width="2.5"/>
</g>
<g font-family="'DejaVu Sans','Liberation Sans',sans-serif" font-size="27.6" fill="#000">
<text transform="translate(158.8 413.1) scale(1.03 1)" text-anchor="middle">0</text>
<text transform="translate(327.3 413.1) scale(1.03 1)" text-anchor="middle">24</text>
<text transform="translate(495.8 413.1) scale(1.03 1)" text-anchor="middle">48</text>
<text transform="translate(664.3 413.1) scale(1.03 1)" text-anchor="middle">72</text>
<text transform="translate(832.8 413.1) scale(1.03 1)" text-anchor="middle">96</text>
<text transform="translate(1001.3 413.1) scale(1.03 1)" text-anchor="middle">120</text>
<text transform="translate(136.4 379.7) scale(1.03 1)" text-anchor="end">0.2</text>
<text transform="translate(136.4 299.9) scale(1.03 1)" text-anchor="end">0.4</text>
<text transform="translate(136.4 220) scale(1.03 1)" text-anchor="end">0.6</text>
<text transform="translate(136.4 140.2) scale(1.03 1)" text-anchor="end">0.8</text>
<text transform="translate(136.4 60.3) scale(1.03 1)" text-anchor="end">1.0</text>
<text transform="translate(591.4 457.6) scale(1.06 1)" text-anchor="middle">Forecast time (hours)</text>
<text transform="translate(591.4 23.8) scale(1.05 1)" text-anchor="middle">AOD</text>
<text transform="translate(66.2 208.4) rotate(-90) scale(1.05 1)" text-anchor="middle">R</text>
</g>
<g stroke="#000" fill="none">
<path d="M1212.7 48.7 V368.1 H2076.6" stroke-width="3.1" stroke-linecap="square" stroke-linejoin="miter"/>
<path d="M1212.7 368.1 v7.7 M1381.2 368.1 v7.7 M1549.7 368.1 v7.7 M1718.2 368.1 v7.7 M1886.7 368.1 v7.7 M2055.2 368.1 v7.7 M1212.7 332.6 h-7.7 M1212.7 190.7 h-7.7 M1212.7 48.7 h-7.7" stroke-width="2.5"/>
</g>
<g font-family="'DejaVu Sans','Liberation Sans',sans-serif" font-size="27.6" fill="#000">
<text transform="translate(1211.9 413.1) scale(1.03 1)" text-anchor="middle">0</text>
<text transform="translate(1380.4 413.1) scale(1.03 1)" text-anchor="middle">24</text>
<text transform="translate(1548.9 413.1) scale(1.03 1)" text-anchor="middle">48</text>
<text transform="translate(1717.4 413.1) scale(1.03 1)" text-anchor="middle">72</text>
<text transform="translate(1885.9 413.1) scale(1.03 1)" text-anchor="middle">96</text>
<text transform="translate(2054.4 413.1) scale(1.03 1)" text-anchor="middle">120</text>
<text transform="translate(1189.5 344.2) scale(1.03 1)" text-anchor="end">0.1</text>
<text transform="translate(1189.5 202.3) scale(1.03 1)" text-anchor="end">0.3</text>
<text transform="translate(1189.5 60.3) scale(1.03 1)" text-anchor="end">0.5</text>
<text transform="translate(1644.7 457.6) scale(1.06 1)" text-anchor="middle">Forecast time (hours)</text>
<text transform="translate(1644.7 23.8) scale(1.05 1)" text-anchor="middle">AOD</text>
<text transform="translate(1120.1 208.4) rotate(-90) scale(1.05 1)" text-anchor="middle">RMSE</text>
</g>
<g stroke="#000" fill="none">
<path d="M159.6 1293.7 V1613 H1023.2" stroke-width="3.1" stroke-linecap="square" stroke-linejoin="miter"/>
<path d="M159.6 1613 v7.7 M328.1 1613 v7.7 M496.6 1613 v7.7 M665.1 1613 v7.7 M833.6 1613 v7.7 M1002.1 1613 v7.7 M159.6 1613 h-7.7 M159.6 1533.2 h-7.7 M159.6 1453.3 h-7.7 M159.6 1373.5 h-7.7 M159.6 1293.7 h-7.7" stroke-width="2.5"/>
</g>
<g font-family="'DejaVu Sans','Liberation Sans',sans-serif" font-size="27.6" fill="#000">
<text transform="translate(158.8 1658) scale(1.03 1)" text-anchor="middle">0</text>
<text transform="translate(327.3 1658) scale(1.03 1)" text-anchor="middle">24</text>
<text transform="translate(495.8 1658) scale(1.03 1)" text-anchor="middle">48</text>
<text transform="translate(664.3 1658) scale(1.03 1)" text-anchor="middle">72</text>
<text transform="translate(832.8 1658) scale(1.03 1)" text-anchor="middle">96</text>
<text transform="translate(1001.3 1658) scale(1.03 1)" text-anchor="middle">120</text>
<text transform="translate(136.4 1624.6) scale(1.03 1)" text-anchor="end">0.2</text>
<text transform="translate(136.4 1544.8) scale(1.03 1)" text-anchor="end">0.4</text>
<text transform="translate(136.4 1464.9) scale(1.03 1)" text-anchor="end">0.6</text>
<text transform="translate(136.4 1385.1) scale(1.03 1)" text-anchor="end">0.8</text>
<text transform="translate(136.4 1305.3) scale(1.03 1)" text-anchor="end">1.0</text>
<text transform="translate(591.4 1702.5) scale(1.06 1)" text-anchor="middle">Forecast time (hours)</text>
<text transform="translate(591.4 1268.8) scale(1.05 1)" text-anchor="middle">AOD</text>
<text transform="translate(66.2 1453.3) rotate(-90) scale(1.05 1)" text-anchor="middle">R</text>
</g>
<g stroke="#000" fill="none">
<path d="M1212.7 1293.7 V1613 H2076.6" stroke-width="3.1" stroke-linecap="square" stroke-linejoin="miter"/>
<path d="M1212.7 1613 v7.7 M1381.2 1613 v7.7 M1549.7 1613 v7.7 M1718.2 1613 v7.7 M1886.7 1613 v7.7 M2055.2 1613 v7.7 M1212.7 1577.5 h-7.7 M1212.7 1435.6 h-7.7 M1212.7 1293.7 h-7.7" stroke-width="2.5"/>
</g>
<g font-family="'DejaVu Sans','Liberation Sans',sans-serif" font-size="27.6" fill="#000">
<text transform="translate(1211.9 1658) scale(1.03 1)" text-anchor="middle">0</text>
<text transform="translate(1380.4 1658) scale(1.03 1)" text-anchor="middle">24</text>
<text transform="translate(1548.9 1658) scale(1.03 1)" text-anchor="middle">48</text>
<text transform="translate(1717.4 1658) scale(1.03 1)" text-anchor="middle">72</text>
<text transform="translate(1885.9 1658) scale(1.03 1)" text-anchor="middle">96</text>
<text transform="translate(2054.4 1658) scale(1.03 1)" text-anchor="middle">120</text>
<text transform="translate(1189.5 1589.1) scale(1.03 1)" text-anchor="end">0.1</text>
<text transform="translate(1189.5 1447.2) scale(1.03 1)" text-anchor="end">0.3</text>
<text transform="translate(1189.5 1305.3) scale(1.03 1)" text-anchor="end">0.5</text>
<text transform="translate(1644.7 1702.5) scale(1.06 1)" text-anchor="middle">Forecast time (hours)</text>
<text transform="translate(1644.7 1268.8) scale(1.05 1)" text-anchor="middle">AOD</text>
<text transform="translate(1120.1 1453.3) rotate(-90) scale(1.05 1)" text-anchor="middle">RMSE</text>
</g>
<g stroke="#df1f21" fill="#df1f21" stroke-width="4.2" stroke-linejoin="round" stroke-linecap="butt">
<polyline fill="none" points="180.7,173.1 201.7,232.5 222.8,226.3 243.9,197.5 264.9,119"/>
<circle cx="180.7" cy="173.1" r="6.3" stroke="none"/>
<circle cx="201.7" cy="232.5" r="6.3" stroke="none"/>
<circle cx="222.8" cy="226.3" r="6.3" stroke="none"/>
<circle cx="243.9" cy="197.5" r="6.3" stroke="none"/>
<circle cx="264.9" cy="119" r="6.3" stroke="none"/>
<polyline fill="none" points="328.1,197.7 349.2,192.5 370.2,256 391.3,250.1 412.4,204.6 433.4,144.6"/>
<circle cx="328.1" cy="197.7" r="6.3" stroke="none"/>
<circle cx="349.2" cy="192.5" r="6.3" stroke="none"/>
<circle cx="370.2" cy="256" r="6.3" stroke="none"/>
<circle cx="391.3" cy="250.1" r="6.3" stroke="none"/>
<circle cx="412.4" cy="204.6" r="6.3" stroke="none"/>
<circle cx="433.4" cy="144.6" r="6.3" stroke="none"/>
<polyline fill="none" points="496.6,265.5 517.7,227.5 538.7,281.9 559.8,263.2 580.9,223.7 601.9,154.7"/>
<circle cx="496.6" cy="265.5" r="6.3" stroke="none"/>
<circle cx="517.7" cy="227.5" r="6.3" stroke="none"/>
<circle cx="538.7" cy="281.9" r="6.3" stroke="none"/>
<circle cx="559.8" cy="263.2" r="6.3" stroke="none"/>
<circle cx="580.9" cy="223.7" r="6.3" stroke="none"/>
<circle cx="601.9" cy="154.7" r="6.3" stroke="none"/>
<polyline fill="none" points="665.1,266.4 686.2,241.7 707.2,289.1 728.3,281.1 749.4,245.6 770.4,184"/>
<circle cx="665.1" cy="266.4" r="6.3" stroke="none"/>
<circle cx="686.2" cy="241.7" r="6.3" stroke="none"/>
<circle cx="707.2" cy="289.1" r="6.3" stroke="none"/>
<circle cx="728.3" cy="281.1" r="6.3" stroke="none"/>
<circle cx="749.4" cy="245.6" r="6.3" stroke="none"/>
<circle cx="770.4" cy="184" r="6.3" stroke="none"/>
<polyline fill="none" points="833.6,304.5 854.7,255.1 875.8,312.1 896.8,312.1 917.9,258.5 938.9,197.4"/>
<circle cx="833.6" cy="304.5" r="6.3" stroke="none"/>
<circle cx="854.7" cy="255.1" r="6.3" stroke="none"/>
<circle cx="875.8" cy="312.1" r="6.3" stroke="none"/>
<circle cx="896.8" cy="312.1" r="6.3" stroke="none"/>
<circle cx="917.9" cy="258.5" r="6.3" stroke="none"/>
<circle cx="938.9" cy="197.4" r="6.3" stroke="none"/>
<circle cx="1002.1" cy="318.4" r="6.3" stroke="none"/>
</g>
<g stroke="#a5cbdf" fill="#a5cbdf" stroke-width="4.2" stroke-linejoin="round" stroke-linecap="butt">
<polyline fill="none" points="180.7,177.6 201.7,246.3 222.8,246.3 243.9,266.7 264.9,341.4"/>
<circle cx="180.7" cy="177.6" r="6.3" stroke="none"/>
<circle cx="201.7" cy="246.3" r="6.3" stroke="none"/>
<circle cx="222.8" cy="246.3" r="6.3" stroke="none"/>
<circle cx="243.9" cy="266.7" r="6.3" stroke="none"/>
<circle cx="264.9" cy="341.4" r="6.3" stroke="none"/>
<polyline fill="none" points="328.1,203.7 349.2,204.9 370.2,267.2 391.3,267.2 412.4,287.8 433.4,247.6"/>
<circle cx="328.1" cy="203.7" r="6.3" stroke="none"/>
<circle cx="349.2" cy="204.9" r="6.3" stroke="none"/>
<circle cx="370.2" cy="267.2" r="6.3" stroke="none"/>
<circle cx="391.3" cy="267.2" r="6.3" stroke="none"/>
<circle cx="412.4" cy="287.8" r="6.3" stroke="none"/>
<circle cx="433.4" cy="247.6" r="6.3" stroke="none"/>
<polyline fill="none" points="496.6,208.3 517.7,213.3 538.7,273.6 559.8,279.4 580.9,299.5 601.9,238.4"/>
<circle cx="496.6" cy="208.3" r="6.3" stroke="none"/>
<circle cx="517.7" cy="213.3" r="6.3" stroke="none"/>
<circle cx="538.7" cy="273.6" r="6.3" stroke="none"/>
<circle cx="559.8" cy="279.4" r="6.3" stroke="none"/>
<circle cx="580.9" cy="299.5" r="6.3" stroke="none"/>
<circle cx="601.9" cy="238.4" r="6.3" stroke="none"/>
<polyline fill="none" points="665.1,234.2 686.2,232.5 707.2,283.6 728.3,289.5 749.4,302 770.4,281.6"/>
<circle cx="665.1" cy="234.2" r="6.3" stroke="none"/>
<circle cx="686.2" cy="232.5" r="6.3" stroke="none"/>
<circle cx="707.2" cy="283.6" r="6.3" stroke="none"/>
<circle cx="728.3" cy="289.5" r="6.3" stroke="none"/>
<circle cx="749.4" cy="302" r="6.3" stroke="none"/>
<circle cx="770.4" cy="281.6" r="6.3" stroke="none"/>
<polyline fill="none" points="833.6,281.1 854.7,254 875.8,297 896.8,304.5 917.9,312.6 938.9,271.5"/>
<circle cx="833.6" cy="281.1" r="6.3" stroke="none"/>
<circle cx="854.7" cy="254" r="6.3" stroke="none"/>
<circle cx="875.8" cy="297" r="6.3" stroke="none"/>
<circle cx="896.8" cy="304.5" r="6.3" stroke="none"/>
<circle cx="917.9" cy="312.6" r="6.3" stroke="none"/>
<circle cx="938.9" cy="271.5" r="6.3" stroke="none"/>
<circle cx="1002.1" cy="301.2" r="6.3" stroke="none"/>
</g>
<g stroke="#df1f21" fill="#df1f21" stroke-width="4.2" stroke-linejoin="round" stroke-linecap="butt">
<polyline fill="none" points="1233.8,211.1 1254.8,104.5 1275.9,140.5 1297,225.5 1318,343.4"/>
<circle cx="1233.8" cy="211.1" r="6.3" stroke="none"/>
<circle cx="1254.8" cy="104.5" r="6.3" stroke="none"/>
<circle cx="1275.9" cy="140.5" r="6.3" stroke="none"/>
<circle cx="1297" cy="225.5" r="6.3" stroke="none"/>
<circle cx="1318" cy="343.4" r="6.3" stroke="none"/>
<polyline fill="none" points="1381.2,259 1402.3,206.6 1423.3,98.3 1444.4,129.6 1465.5,222.5 1486.5,334.3"/>
<circle cx="1381.2" cy="259" r="6.3" stroke="none"/>
<circle cx="1402.3" cy="206.6" r="6.3" stroke="none"/>
<circle cx="1423.3" cy="98.3" r="6.3" stroke="none"/>
<circle cx="1444.4" cy="129.6" r="6.3" stroke="none"/>
<circle cx="1465.5" cy="222.5" r="6.3" stroke="none"/>
<circle cx="1486.5" cy="334.3" r="6.3" stroke="none"/>
<polyline fill="none" points="1549.7,227.2 1570.8,190.7 1591.8,85.5 1612.9,122.9 1634,213.8 1655,308.4"/>
<circle cx="1549.7" cy="227.2" r="6.3" stroke="none"/>
<circle cx="1570.8" cy="190.7" r="6.3" stroke="none"/>
<circle cx="1591.8" cy="85.5" r="6.3" stroke="none"/>
<circle cx="1612.9" cy="122.9" r="6.3" stroke="none"/>
<circle cx="1634" cy="213.8" r="6.3" stroke="none"/>
<circle cx="1655" cy="308.4" r="6.3" stroke="none"/>
<polyline fill="none" points="1718.2,228.7 1739.3,185.3 1760.3,81.5 1781.4,112 1802.5,200.7 1823.5,252.3"/>
<circle cx="1718.2" cy="228.7" r="6.3" stroke="none"/>
<circle cx="1739.3" cy="185.3" r="6.3" stroke="none"/>
<circle cx="1760.3" cy="81.5" r="6.3" stroke="none"/>
<circle cx="1781.4" cy="112" r="6.3" stroke="none"/>
<circle cx="1802.5" cy="200.7" r="6.3" stroke="none"/>
<circle cx="1823.5" cy="252.3" r="6.3" stroke="none"/>
<polyline fill="none" points="1886.7,203.2 1907.8,175.9 1928.9,70.5 1949.9,96.1 1971,195.7 1992,184.3"/>
<circle cx="1886.7" cy="203.2" r="6.3" stroke="none"/>
<circle cx="1907.8" cy="175.9" r="6.3" stroke="none"/>
<circle cx="1928.9" cy="70.5" r="6.3" stroke="none"/>
<circle cx="1949.9" cy="96.1" r="6.3" stroke="none"/>
<circle cx="1971" cy="195.7" r="6.3" stroke="none"/>
<circle cx="1992" cy="184.3" r="6.3" stroke="none"/>
<circle cx="2055.2" cy="199.5" r="6.3" stroke="none"/>
</g>
<g stroke="#a5cbdf" fill="#a5cbdf" stroke-width="4.2" stroke-linejoin="round" stroke-linecap="butt">
<polyline fill="none" points="1233.8,222.2 1254.8,108.3 1275.9,137.4 1297,198.2 1318,288.1"/>
<circle cx="1233.8" cy="222.2" r="6.3" stroke="none"/>
<circle cx="1254.8" cy="108.3" r="6.3" stroke="none"/>
<circle cx="1275.9" cy="137.4" r="6.3" stroke="none"/>
<circle cx="1297" cy="198.2" r="6.3" stroke="none"/>
<circle cx="1318" cy="288.1" r="6.3" stroke="none"/>
<polyline fill="none" points="1381.2,229.2 1402.3,204.4 1423.3,98.3 1444.4,126.2 1465.5,186.5 1486.5,300.3"/>
<circle cx="1381.2" cy="229.2" r="6.3" stroke="none"/>
<circle cx="1402.3" cy="204.4" r="6.3" stroke="none"/>
<circle cx="1423.3" cy="98.3" r="6.3" stroke="none"/>
<circle cx="1444.4" cy="126.2" r="6.3" stroke="none"/>
<circle cx="1465.5" cy="186.5" r="6.3" stroke="none"/>
<circle cx="1486.5" cy="300.3" r="6.3" stroke="none"/>
<polyline fill="none" points="1549.7,220.5 1570.8,198.2 1591.8,93.6 1612.9,117.3 1634,177.3 1655,297"/>
<circle cx="1549.7" cy="220.5" r="6.3" stroke="none"/>
<circle cx="1570.8" cy="198.2" r="6.3" stroke="none"/>
<circle cx="1591.8" cy="93.6" r="6.3" stroke="none"/>
<circle cx="1612.9" cy="117.3" r="6.3" stroke="none"/>
<circle cx="1634" cy="177.3" r="6.3" stroke="none"/>
<circle cx="1655" cy="297" r="6.3" stroke="none"/>
<polyline fill="none" points="1718.2,186.2 1739.3,184.8 1760.3,87.7 1781.4,111.2 1802.5,173.9 1823.5,282.3"/>
<circle cx="1718.2" cy="186.2" r="6.3" stroke="none"/>
<circle cx="1739.3" cy="184.8" r="6.3" stroke="none"/>
<circle cx="1760.3" cy="87.7" r="6.3" stroke="none"/>
<circle cx="1781.4" cy="111.2" r="6.3" stroke="none"/>
<circle cx="1802.5" cy="173.9" r="6.3" stroke="none"/>
<circle cx="1823.5" cy="282.3" r="6.3" stroke="none"/>
<polyline fill="none" points="1886.7,138.3 1907.8,169.2 1928.9,75.2 1949.9,99.4 1971,165.2 1992,295.3"/>
<circle cx="1886.7" cy="138.3" r="6.3" stroke="none"/>
<circle cx="1907.8" cy="169.2" r="6.3" stroke="none"/>
<circle cx="1928.9" cy="75.2" r="6.3" stroke="none"/>
<circle cx="1949.9" cy="99.4" r="6.3" stroke="none"/>
<circle cx="1971" cy="165.2" r="6.3" stroke="none"/>
<circle cx="1992" cy="295.3" r="6.3" stroke="none"/>
<circle cx="2055.2" cy="104.5" r="6.3" stroke="none"/>
</g>
<g font-family="'DejaVu Sans','Liberation Sans',sans-serif" font-size="27.6" fill="#000">
<path d="M492 87.3 h28" stroke="#df1f21" stroke-width="4.2" fill="none"/>
<circle cx="506" cy="87.3" r="6.3" fill="#df1f21"/>
<text transform="translate(531.8 96.9) scale(1.06 1)">Operational AI-GAMFS</text>
<path d="M873.2 87.3 h28" stroke="#a5cbdf" stroke-width="4.2" fill="none"/>
<circle cx="887.2" cy="87.3" r="6.3" fill="#a5cbdf"/>
<text transform="translate(913.9 96.9) scale(1.05 1)">CAMS</text>
</g>
<g stroke="#df1f21" fill="#df1f21" stroke-width="4.2" stroke-linejoin="round" stroke-linecap="butt">
<polyline fill="none" points="180.7,1461.6 201.7,1496.8 222.8,1502.1 243.9,1440.4"/>
<circle cx="180.7" cy="1461.6" r="6.3" stroke="none"/>
<circle cx="201.7" cy="1496.8" r="6.3" stroke="none"/>
<circle cx="222.8" cy="1502.1" r="6.3" stroke="none"/>
<circle cx="243.9" cy="1440.4" r="6.3" stroke="none"/>
<polyline fill="none" points="328.1,1413.1 349.2,1473.9 370.2,1487.2 391.3,1490.1 412.4,1464.1"/>
<circle cx="328.1" cy="1413.1" r="6.3" stroke="none"/>
<circle cx="349.2" cy="1473.9" r="6.3" stroke="none"/>
<circle cx="370.2" cy="1487.2" r="6.3" stroke="none"/>
<circle cx="391.3" cy="1490.1" r="6.3" stroke="none"/>
<circle cx="412.4" cy="1464.1" r="6.3" stroke="none"/>
<polyline fill="none" points="496.6,1439.9 517.7,1500.1 538.7,1492.6 559.8,1474.5 580.9,1464.5"/>
<circle cx="496.6" cy="1439.9" r="6.3" stroke="none"/>
<circle cx="517.7" cy="1500.1" r="6.3" stroke="none"/>
<circle cx="538.7" cy="1492.6" r="6.3" stroke="none"/>
<circle cx="559.8" cy="1474.5" r="6.3" stroke="none"/>
<circle cx="580.9" cy="1464.5" r="6.3" stroke="none"/>
<polyline fill="none" points="665.1,1443.2 686.2,1498.5 707.2,1526.1 728.3,1500.1 749.4,1490.6"/>
<circle cx="665.1" cy="1443.2" r="6.3" stroke="none"/>
<circle cx="686.2" cy="1498.5" r="6.3" stroke="none"/>
<circle cx="707.2" cy="1526.1" r="6.3" stroke="none"/>
<circle cx="728.3" cy="1500.1" r="6.3" stroke="none"/>
<circle cx="749.4" cy="1490.6" r="6.3" stroke="none"/>
<polyline fill="none" points="833.6,1484.2 854.7,1494.3 875.8,1554.5 896.8,1498.1 917.9,1511.4"/>
<circle cx="833.6" cy="1484.2" r="6.3" stroke="none"/>
<circle cx="854.7" cy="1494.3" r="6.3" stroke="none"/>
<circle cx="875.8" cy="1554.5" r="6.3" stroke="none"/>
<circle cx="896.8" cy="1498.1" r="6.3" stroke="none"/>
<circle cx="917.9" cy="1511.4" r="6.3" stroke="none"/>
<circle cx="1002.1" cy="1507.3" r="6.3" stroke="none"/>
</g>
<g stroke="#8c584e" fill="#8c584e" stroke-width="4.2" stroke-linejoin="round" stroke-linecap="butt">
<polyline fill="none" points="180.7,1461.6 201.7,1489.6 222.8,1492.6 243.9,1428.5"/>
<circle cx="180.7" cy="1461.6" r="6.3" stroke="none"/>
<circle cx="201.7" cy="1489.6" r="6.3" stroke="none"/>
<circle cx="222.8" cy="1492.6" r="6.3" stroke="none"/>
<circle cx="243.9" cy="1428.5" r="6.3" stroke="none"/>
<polyline fill="none" points="328.1,1423.1 349.2,1461.1 370.2,1504.3 391.3,1498.5 412.4,1522.4"/>
<circle cx="328.1" cy="1423.1" r="6.3" stroke="none"/>
<circle cx="349.2" cy="1461.1" r="6.3" stroke="none"/>
<circle cx="370.2" cy="1504.3" r="6.3" stroke="none"/>
<circle cx="391.3" cy="1498.5" r="6.3" stroke="none"/>
<circle cx="412.4" cy="1522.4" r="6.3" stroke="none"/>
<polyline fill="none" points="496.6,1448.7 517.7,1501.8 538.7,1537.3 559.8,1529.4 580.9,1555.1"/>
<circle cx="496.6" cy="1448.7" r="6.3" stroke="none"/>
<circle cx="517.7" cy="1501.8" r="6.3" stroke="none"/>
<circle cx="538.7" cy="1537.3" r="6.3" stroke="none"/>
<circle cx="559.8" cy="1529.4" r="6.3" stroke="none"/>
<circle cx="580.9" cy="1555.1" r="6.3" stroke="none"/>
<polyline fill="none" points="665.1,1480.4 686.2,1521.4 707.2,1553.2 728.3,1541.2 749.4,1551.2"/>
<circle cx="665.1" cy="1480.4" r="6.3" stroke="none"/>
<circle cx="686.2" cy="1521.4" r="6.3" stroke="none"/>
<circle cx="707.2" cy="1553.2" r="6.3" stroke="none"/>
<circle cx="728.3" cy="1541.2" r="6.3" stroke="none"/>
<circle cx="749.4" cy="1551.2" r="6.3" stroke="none"/>
<polyline fill="none" points="833.6,1509.7 854.7,1505.2 875.8,1555.9 896.8,1546.2 917.9,1599.4"/>
<circle cx="833.6" cy="1509.7" r="6.3" stroke="none"/>
<circle cx="854.7" cy="1505.2" r="6.3" stroke="none"/>
<circle cx="875.8" cy="1555.9" r="6.3" stroke="none"/>
<circle cx="896.8" cy="1546.2" r="6.3" stroke="none"/>
<circle cx="917.9" cy="1599.4" r="6.3" stroke="none"/>
<circle cx="1002.1" cy="1564.6" r="6.3" stroke="none"/>
</g>
<g stroke="#df1f21" fill="#df1f21" stroke-width="4.2" stroke-linejoin="round" stroke-linecap="butt">
<polyline fill="none" points="1233.8,1337.7 1254.8,1385.5 1275.9,1322.2 1297,1462.8"/>
<circle cx="1233.8" cy="1337.7" r="6.3" stroke="none"/>
<circle cx="1254.8" cy="1385.5" r="6.3" stroke="none"/>
<circle cx="1275.9" cy="1322.2" r="6.3" stroke="none"/>
<circle cx="1297" cy="1462.8" r="6.3" stroke="none"/>
<polyline fill="none" points="1381.2,1479.7 1402.3,1371.2 1423.3,1406.9 1444.4,1352 1465.5,1450.4"/>
<circle cx="1381.2" cy="1479.7" r="6.3" stroke="none"/>
<circle cx="1402.3" cy="1371.2" r="6.3" stroke="none"/>
<circle cx="1423.3" cy="1406.9" r="6.3" stroke="none"/>
<circle cx="1444.4" cy="1352" r="6.3" stroke="none"/>
<circle cx="1465.5" cy="1450.4" r="6.3" stroke="none"/>
<polyline fill="none" points="1549.7,1444.6 1570.8,1355.3 1591.8,1400.5 1612.9,1389.1 1634,1449.4"/>
<circle cx="1549.7" cy="1444.6" r="6.3" stroke="none"/>
<circle cx="1570.8" cy="1355.3" r="6.3" stroke="none"/>
<circle cx="1591.8" cy="1400.5" r="6.3" stroke="none"/>
<circle cx="1612.9" cy="1389.1" r="6.3" stroke="none"/>
<circle cx="1634" cy="1449.4" r="6.3" stroke="none"/>
<polyline fill="none" points="1718.2,1453.3 1739.3,1350.3 1760.3,1376.7 1781.4,1376.2 1802.5,1432.3"/>
<circle cx="1718.2" cy="1453.3" r="6.3" stroke="none"/>
<circle cx="1739.3" cy="1350.3" r="6.3" stroke="none"/>
<circle cx="1760.3" cy="1376.7" r="6.3" stroke="none"/>
<circle cx="1781.4" cy="1376.2" r="6.3" stroke="none"/>
<circle cx="1802.5" cy="1432.3" r="6.3" stroke="none"/>
<polyline fill="none" points="1886.7,1444.6 1907.8,1367.4 1928.9,1374.6 1949.9,1383.4 1971,1423.3"/>
<circle cx="1886.7" cy="1444.6" r="6.3" stroke="none"/>
<circle cx="1907.8" cy="1367.4" r="6.3" stroke="none"/>
<circle cx="1928.9" cy="1374.6" r="6.3" stroke="none"/>
<circle cx="1949.9" cy="1383.4" r="6.3" stroke="none"/>
<circle cx="1971" cy="1423.3" r="6.3" stroke="none"/>
<circle cx="2055.2" cy="1433.5" r="6.3" stroke="none"/>
</g>
<g stroke="#8c584e" fill="#8c584e" stroke-width="4.2" stroke-linejoin="round" stroke-linecap="butt">
<polyline fill="none" points="1233.8,1339.4 1254.8,1385.5 1275.9,1317.1 1297,1462.8"/>
<circle cx="1233.8" cy="1339.4" r="6.3" stroke="none"/>
<circle cx="1254.8" cy="1385.5" r="6.3" stroke="none"/>
<circle cx="1275.9" cy="1317.1" r="6.3" stroke="none"/>
<circle cx="1297" cy="1462.8" r="6.3" stroke="none"/>
<polyline fill="none" points="1381.2,1442.4 1402.3,1372.9 1423.3,1400.5 1444.4,1342.8 1465.5,1427.3"/>
<circle cx="1381.2" cy="1442.4" r="6.3" stroke="none"/>
<circle cx="1402.3" cy="1372.9" r="6.3" stroke="none"/>
<circle cx="1423.3" cy="1400.5" r="6.3" stroke="none"/>
<circle cx="1444.4" cy="1342.8" r="6.3" stroke="none"/>
<circle cx="1465.5" cy="1427.3" r="6.3" stroke="none"/>
<polyline fill="none" points="1549.7,1392.1 1570.8,1352 1591.8,1389.1 1612.9,1359.2 1634,1409.2"/>
<circle cx="1549.7" cy="1392.1" r="6.3" stroke="none"/>
<circle cx="1570.8" cy="1352" r="6.3" stroke="none"/>
<circle cx="1591.8" cy="1389.1" r="6.3" stroke="none"/>
<circle cx="1612.9" cy="1359.2" r="6.3" stroke="none"/>
<circle cx="1634" cy="1409.2" r="6.3" stroke="none"/>
<polyline fill="none" points="1718.2,1420.3 1739.3,1347.8 1760.3,1376.2 1781.4,1358.3 1802.5,1410.2"/>
<circle cx="1718.2" cy="1420.3" r="6.3" stroke="none"/>
<circle cx="1739.3" cy="1347.8" r="6.3" stroke="none"/>
<circle cx="1760.3" cy="1376.2" r="6.3" stroke="none"/>
<circle cx="1781.4" cy="1358.3" r="6.3" stroke="none"/>
<circle cx="1802.5" cy="1410.2" r="6.3" stroke="none"/>
<polyline fill="none" points="1886.7,1409.4 1907.8,1358.2 1928.9,1382.1 1949.9,1333.2 1971,1392.5"/>
<circle cx="1886.7" cy="1409.4" r="6.3" stroke="none"/>
<circle cx="1907.8" cy="1358.2" r="6.3" stroke="none"/>
<circle cx="1928.9" cy="1382.1" r="6.3" stroke="none"/>
<circle cx="1949.9" cy="1333.2" r="6.3" stroke="none"/>
<circle cx="1971" cy="1392.5" r="6.3" stroke="none"/>
<circle cx="2055.2" cy="1371.6" r="6.3" stroke="none"/>
</g>
<g font-family="'DejaVu Sans','Liberation Sans',sans-serif" font-size="27.6" fill="#000">
<path d="M449 1332.8 h28" stroke="#df1f21" stroke-width="4.2" fill="none"/>
<circle cx="463" cy="1332.8" r="6.3" fill="#df1f21"/>
<text transform="translate(488.7 1342.4) scale(1.06 1)">Operational AI-GAMFS</text>
<path d="M830.2 1332.8 h28" stroke="#8c584e" stroke-width="4.2" fill="none"/>
<circle cx="844.2" cy="1332.8" r="6.3" fill="#8c584e"/>
<text transform="translate(870.6 1342.4) scale(1.05 1)">GEOS-FP</text>
</g>
<g transform="translate(159.9 556.3)">
<use href="#mapbg"/>
<g clip-path="url(#mapclip)"><g stroke="#000" stroke-width="1.8"><circle cx="220.8" cy="35.2" r="8.9" fill="#d02525"/><circle cx="216.5" cy="76.2" r="8.9" fill="#eb4031"/><circle cx="167.6" cy="135.2" r="8.9" fill="#7f0b15"/><circle cx="382.6" cy="98.8" r="8.9" fill="#ed4736"/><circle cx="303.9" cy="121.3" r="8.9" fill="#8e0f17"/><circle cx="407.7" cy="139.9" r="8.9" fill="#7b0a15"/><circle cx="380.6" cy="169" r="8.9" fill="#f79071"/><circle cx="480.2" cy="191.8" r="8.9" fill="#eb4031"/><circle cx="535.1" cy="121.8" r="8.9" fill="#f15a41"/><circle cx="568.4" cy="74.1" r="8.9" fill="#eb4031"/><circle cx="529.9" cy="159.1" r="8.9" fill="#8e0f17"/><circle cx="537.9" cy="187.9" r="8.9" fill="#7f0b15"/><circle cx="571.8" cy="129.3" r="8.9" fill="#a5151a"/><circle cx="581.8" cy="135.2" r="8.9" fill="#c11b20"/><circle cx="581" cy="115.1" r="8.9" fill="#bf1b20"/><circle cx="636.2" cy="136.5" r="8.9" fill="#f15a41"/><circle cx="710.4" cy="64.9" r="8.9" fill="#ad171c"/><circle cx="576.6" cy="216.4" r="8.9" fill="#c11b20"/><circle cx="641.3" cy="228.4" r="8.9" fill="#ee4e3a"/><circle cx="613.3" cy="243.8" r="8.9" fill="#971118"/><circle cx="544.6" cy="250.8" r="8.9" fill="#da2f29"/><circle cx="471" cy="336.7" r="8.9" fill="#b9191f"/><circle cx="259.6" cy="250.5" r="8.9" fill="#f67456"/><circle cx="371.8" cy="270.6" r="8.9" fill="#f9e0d5"/></g></g>
<use href="#mapov"/>
<rect x="0" y="0" width="863.5" height="468.9" fill="none" stroke="#000" stroke-width="3"/>
<rect x="0" y="529.2" width="863.5" height="36.7" fill="url(#gReds)" stroke="#000" stroke-width="2.8"/>
<path d="M0 565.9v8.8 M215.9 565.9v8.8 M431.8 565.9v8.8 M647.6 565.9v8.8 M863.5 565.9v8.8" stroke="#000" stroke-width="2.5" fill="none"/>
<g font-family="'DejaVu Sans','Liberation Sans',sans-serif" font-size="27.6" fill="#000">
<text transform="translate(-0.8 610.5) scale(1.03 1)" text-anchor="middle">0.0</text>
<text transform="translate(215.1 610.5) scale(1.03 1)" text-anchor="middle">0.1</text>
<text transform="translate(430.9 610.5) scale(1.03 1)" text-anchor="middle">0.2</text>
<text transform="translate(646.8 610.5) scale(1.03 1)" text-anchor="middle">0.3</text>
<text transform="translate(862.7 610.5) scale(1.03 1)" text-anchor="middle">0.4</text>
<text transform="translate(122.4 511.6) scale(1.05 1)" text-anchor="middle">80°E</text>
<text transform="translate(369.1 511.6) scale(1.05 1)" text-anchor="middle">100°E</text>
<text transform="translate(615.8 511.6) scale(1.05 1)" text-anchor="middle">120°E</text>
<text transform="translate(-21.7 192.4) scale(1.05 1)" text-anchor="end">35°N</text>
<text transform="translate(-21.7 439.2) scale(1.05 1)" text-anchor="end">15°N</text>
<text transform="translate(431.8 -25.6) scale(1.06 1)" text-anchor="middle">RMSE: Operational AI-GAMFS</text>
</g>
</g>
<g transform="translate(1212.7 556.3)">
<use href="#mapbg"/>
<g clip-path="url(#mapclip)"><g stroke="#000" stroke-width="1.8"><circle cx="220.8" cy="35.2" r="8.9" fill="#90c1da"/><circle cx="216.5" cy="76.2" r="8.9" fill="#e3ebef"/><circle cx="167.6" cy="135.2" r="8.9" fill="#0b3463"/><circle cx="382.6" cy="98.8" r="8.9" fill="#0b3463"/><circle cx="303.9" cy="121.3" r="8.9" fill="#2b6fae"/><circle cx="407.7" cy="139.9" r="8.9" fill="#d86f59"/><circle cx="380.6" cy="169" r="8.9" fill="#b62935"/><circle cx="480.2" cy="191.8" r="8.9" fill="#f3ece8"/><circle cx="535.1" cy="121.8" r="8.9" fill="#f2efed"/><circle cx="568.4" cy="74.1" r="8.9" fill="#cee1eb"/><circle cx="529.9" cy="159.1" r="8.9" fill="#8a1129"/><circle cx="537.9" cy="187.9" r="8.9" fill="#da745d"/><circle cx="571.8" cy="129.3" r="8.9" fill="#0b3463"/><circle cx="581.8" cy="135.2" r="8.9" fill="#0b3463"/><circle cx="581" cy="115.1" r="8.9" fill="#0b3463"/><circle cx="636.2" cy="136.5" r="8.9" fill="#d26250"/><circle cx="710.4" cy="64.9" r="8.9" fill="#0b3463"/><circle cx="576.6" cy="216.4" r="8.9" fill="#afd1e2"/><circle cx="641.3" cy="228.4" r="8.9" fill="#0b3463"/><circle cx="613.3" cy="243.8" r="8.9" fill="#7c0c27"/><circle cx="544.6" cy="250.8" r="8.9" fill="#0b3463"/><circle cx="471" cy="336.7" r="8.9" fill="#7c0c27"/><circle cx="259.6" cy="250.5" r="8.9" fill="#f6dccd"/><circle cx="371.8" cy="270.6" r="8.9" fill="#e3ebef"/></g></g>
<use href="#mapov"/>
<rect x="699.8" y="364.4" width="125.6" height="60.2" fill="#fff" fill-opacity="0.55"/>
<rect x="0" y="0" width="863.5" height="468.9" fill="none" stroke="#000" stroke-width="3"/>
<rect x="0" y="529.2" width="863.5" height="36.7" fill="url(#gRdBu)" stroke="#000" stroke-width="2.8"/>
<path d="M0 565.9v8.8 M215.9 565.9v8.8 M431.8 565.9v8.8 M647.6 565.9v8.8 M863.5 565.9v8.8" stroke="#000" stroke-width="2.5" fill="none"/>
<g font-family="'DejaVu Sans','Liberation Sans',sans-serif" font-size="27.6" fill="#000">
<text transform="translate(-0.8 610.5) scale(1.03 1)" text-anchor="middle">−0.02</text>
<text transform="translate(215.1 610.5) scale(1.03 1)" text-anchor="middle">−0.01</text>
<text transform="translate(430.9 610.5) scale(1.03 1)" text-anchor="middle">0.00</text>
<text transform="translate(646.8 610.5) scale(1.03 1)" text-anchor="middle">0.01</text>
<text transform="translate(862.7 610.5) scale(1.03 1)" text-anchor="middle">0.02</text>
<text transform="translate(122.4 511.6) scale(1.05 1)" text-anchor="middle">80°E</text>
<text transform="translate(369.1 511.6) scale(1.05 1)" text-anchor="middle">100°E</text>
<text transform="translate(615.8 511.6) scale(1.05 1)" text-anchor="middle">120°E</text>
<text transform="translate(-21.7 192.4) scale(1.05 1)" text-anchor="end">35°N</text>
<text transform="translate(-21.7 439.2) scale(1.05 1)" text-anchor="end">15°N</text>
<text transform="translate(431.8 -25.6) scale(1.06 1)" text-anchor="middle">RMSE: Operational AI-GAMFS minus CAMS</text>
<text transform="translate(762.6 401.5) scale(1.03 1)" text-anchor="middle">61.5%</text>
</g>
</g>
<g transform="translate(159.9 1801.8)">
<use href="#mapbg"/>
<g clip-path="url(#mapclip)"><g stroke="#000" stroke-width="1.8"><circle cx="220.8" cy="35.2" r="8.9" fill="#f9ddd0"/><circle cx="216.5" cy="76.2" r="8.9" fill="#f8ccba"/><circle cx="167.6" cy="135.2" r="8.9" fill="#750914"/><circle cx="303.9" cy="121.3" r="8.9" fill="#750914"/><circle cx="407.7" cy="139.9" r="8.9" fill="#b4181d"/><circle cx="380.6" cy="169" r="8.9" fill="#f46348"/><circle cx="480.2" cy="191.8" r="8.9" fill="#ed4736"/><circle cx="535.1" cy="121.8" r="8.9" fill="#bf1b20"/><circle cx="568.4" cy="74.1" r="8.9" fill="#f68465"/><circle cx="529.9" cy="159.1" r="8.9" fill="#f15a41"/><circle cx="537.9" cy="187.9" r="8.9" fill="#e83d2f"/><circle cx="569.5" cy="131.9" r="8.9" fill="#a5151a"/><circle cx="582" cy="135" r="8.9" fill="#d02525"/><circle cx="572.5" cy="125.7" r="8.9" fill="#c71d22"/><circle cx="585.8" cy="154.5" r="8.9" fill="#a0131a"/><circle cx="636.2" cy="136.5" r="8.9" fill="#e3372d"/><circle cx="710.4" cy="64.9" r="8.9" fill="#7f0b15"/><circle cx="641.3" cy="228.4" r="8.9" fill="#de322b"/><circle cx="613.3" cy="243.8" r="8.9" fill="#880e16"/><circle cx="544.6" cy="250.8" r="8.9" fill="#f7a083"/><circle cx="471" cy="336.7" r="8.9" fill="#f79c7f"/><circle cx="259.6" cy="250.5" r="8.9" fill="#e1352c"/><circle cx="371.8" cy="270.6" r="8.9" fill="#d02525"/></g></g>
<use href="#mapov"/>
<rect x="0" y="0" width="863.5" height="468.9" fill="none" stroke="#000" stroke-width="3"/>
<rect x="0" y="529.2" width="863.5" height="36.7" fill="url(#gReds)" stroke="#000" stroke-width="2.8"/>
<path d="M0 565.9v8.8 M215.9 565.9v8.8 M431.8 565.9v8.8 M647.6 565.9v8.8 M863.5 565.9v8.8" stroke="#000" stroke-width="2.5" fill="none"/>
<g font-family="'DejaVu Sans','Liberation Sans',sans-serif" font-size="27.6" fill="#000">
<text transform="translate(-0.8 610.5) scale(1.03 1)" text-anchor="middle">0.0</text>
<text transform="translate(215.1 610.5) scale(1.03 1)" text-anchor="middle">0.1</text>
<text transform="translate(430.9 610.5) scale(1.03 1)" text-anchor="middle">0.2</text>
<text transform="translate(646.8 610.5) scale(1.03 1)" text-anchor="middle">0.3</text>
<text transform="translate(862.7 610.5) scale(1.03 1)" text-anchor="middle">0.4</text>
<text transform="translate(122.4 511.6) scale(1.05 1)" text-anchor="middle">80°E</text>
<text transform="translate(369.1 511.6) scale(1.05 1)" text-anchor="middle">100°E</text>
<text transform="translate(615.8 511.6) scale(1.05 1)" text-anchor="middle">120°E</text>
<text transform="translate(-21.7 192.4) scale(1.05 1)" text-anchor="end">35°N</text>
<text transform="translate(-21.7 439.2) scale(1.05 1)" text-anchor="end">15°N</text>
<text transform="translate(431.8 -25.6) scale(1.06 1)" text-anchor="middle">RMSE: Operational AI-GAMFS</text>
</g>
</g>
<g transform="translate(1212.7 1801.8)">
<use href="#mapbg"/>
<g clip-path="url(#mapclip)"><g stroke="#000" stroke-width="1.8"><circle cx="220.8" cy="35.2" r="8.9" fill="#f5e2d6"/><circle cx="216.5" cy="76.2" r="8.9" fill="#90c1da"/><circle cx="167.6" cy="135.2" r="8.9" fill="#0b3463"/><circle cx="303.9" cy="121.3" r="8.9" fill="#eaeef0"/><circle cx="407.7" cy="139.9" r="8.9" fill="#0b3463"/><circle cx="380.6" cy="169" r="8.9" fill="#f6e0d2"/><circle cx="480.2" cy="191.8" r="8.9" fill="#840f28"/><circle cx="535.1" cy="121.8" r="8.9" fill="#408abc"/><circle cx="568.4" cy="74.1" r="8.9" fill="#7c0c27"/><circle cx="529.9" cy="159.1" r="8.9" fill="#2b6fae"/><circle cx="537.9" cy="187.9" r="8.9" fill="#0b3463"/><circle cx="569.5" cy="131.9" r="8.9" fill="#8a1129"/><circle cx="582" cy="135" r="8.9" fill="#98152b"/><circle cx="572.5" cy="125.7" r="8.9" fill="#0b3463"/><circle cx="585.8" cy="154.5" r="8.9" fill="#d26250"/><circle cx="636.2" cy="136.5" r="8.9" fill="#d5e4ed"/><circle cx="710.4" cy="64.9" r="8.9" fill="#0b3463"/><circle cx="641.3" cy="228.4" r="8.9" fill="#0b3463"/><circle cx="613.3" cy="243.8" r="8.9" fill="#4692c0"/><circle cx="544.6" cy="250.8" r="8.9" fill="#f4eae4"/><circle cx="471" cy="336.7" r="8.9" fill="#afd1e2"/><circle cx="259.6" cy="250.5" r="8.9" fill="#cee1eb"/><circle cx="371.8" cy="270.6" r="8.9" fill="#f5e2d6"/></g></g>
<use href="#mapov"/>
<rect x="699.8" y="364.4" width="125.6" height="60.2" fill="#fff" fill-opacity="0.55"/>
<rect x="0" y="0" width="863.5" height="468.9" fill="none" stroke="#000" stroke-width="3"/>
<rect x="0" y="529.2" width="863.5" height="36.7" fill="url(#gRdBu)" stroke="#000" stroke-width="2.8"/>
<path d="M0 565.9v8.8 M215.9 565.9v8.8 M431.8 565.9v8.8 M647.6 565.9v8.8 M863.5 565.9v8.8" stroke="#000" stroke-width="2.5" fill="none"/>
<g font-family="'DejaVu Sans','Liberation Sans',sans-serif" font-size="27.6" fill="#000">
<text transform="translate(-0.8 610.5) scale(1.03 1)" text-anchor="middle">−0.02</text>
<text transform="translate(215.1 610.5) scale(1.03 1)" text-anchor="middle">−0.01</text>
<text transform="translate(430.9 610.5) scale(1.03 1)" text-anchor="middle">0.00</text>
<text transform="translate(646.8 610.5) scale(1.03 1)" text-anchor="middle">0.01</text>
<text transform="translate(862.7 610.5) scale(1.03 1)" text-anchor="middle">0.02</text>
<text transform="translate(122.4 511.6) scale(1.05 1)" text-anchor="middle">80°E</text>
<text transform="translate(369.1 511.6) scale(1.05 1)" text-anchor="middle">100°E</text>
<text transform="translate(615.8 511.6) scale(1.05 1)" text-anchor="middle">120°E</text>
<text transform="translate(-21.7 192.4) scale(1.05 1)" text-anchor="end">35°N</text>
<text transform="translate(-21.7 439.2) scale(1.05 1)" text-anchor="end">15°N</text>
<text transform="translate(431.8 -25.6) scale(1.06 1)" text-anchor="middle">RMSE: Operational AI-GAMFS minus GEOS-FP</text>
<text transform="translate(762.6 401.5) scale(1.03 1)" text-anchor="middle">58.3%</text>
</g>
</g>
<g font-family="'DejaVu Sans','Liberation Sans',sans-serif" font-size="33.3" font-weight="bold" fill="#000">
<text x="8" y="53.7">a</text>
<text x="7.5" y="559.8">b</text>
<text x="8" y="1293.6">c</text>
<text x="8" y="1794.4">d</text>
</g>
</svg>
</body>
</html>
